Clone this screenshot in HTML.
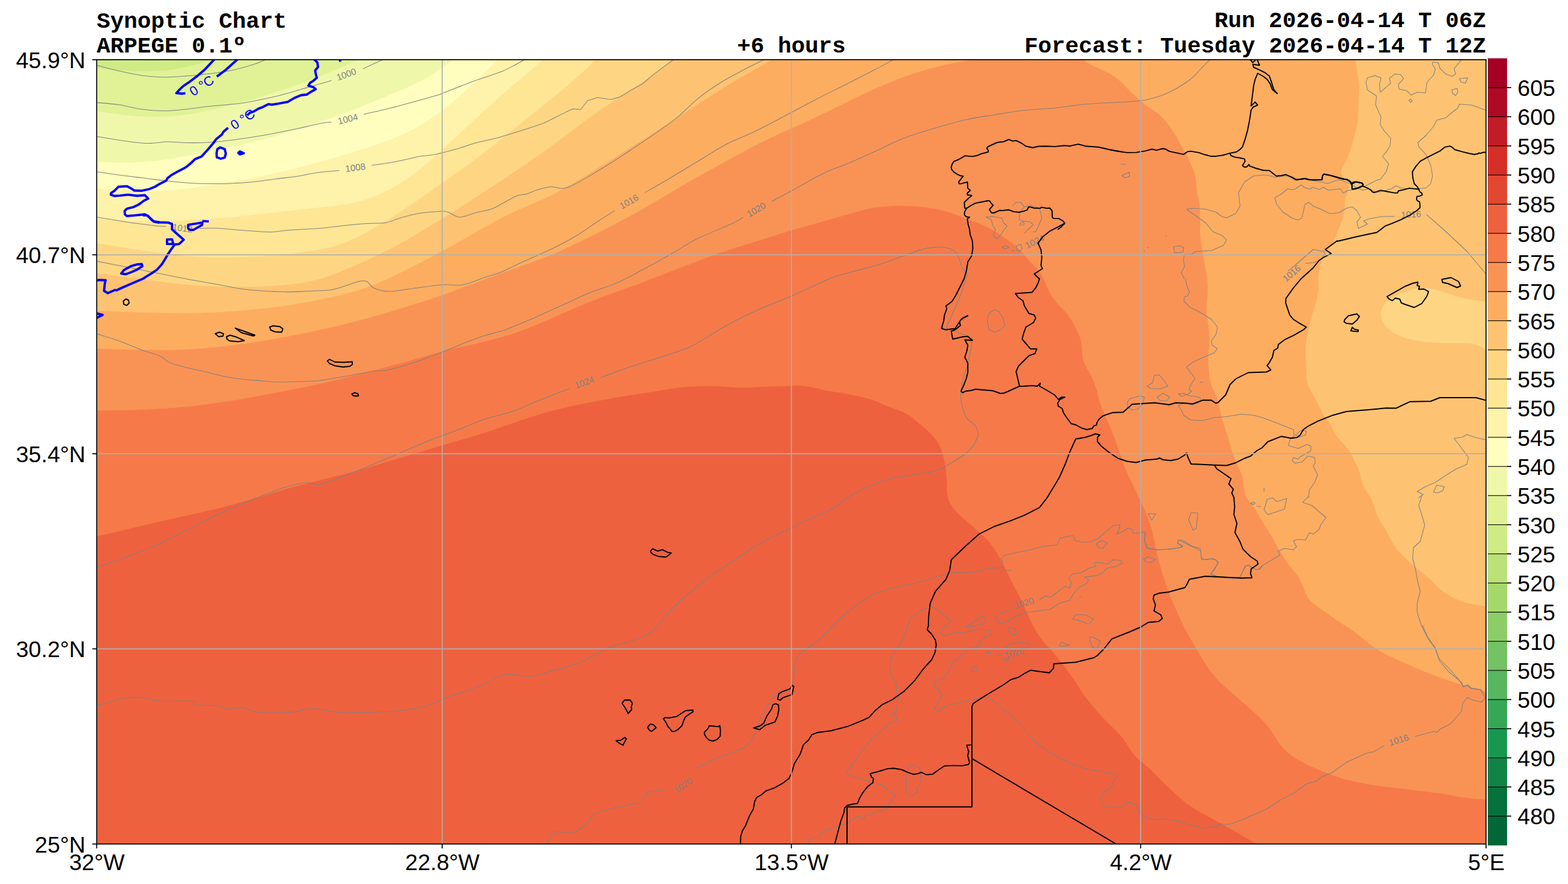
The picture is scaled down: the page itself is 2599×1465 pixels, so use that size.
<!DOCTYPE html><html><head><meta charset="utf-8"><title>Synoptic Chart</title>
<style>html,body{margin:0;padding:0;background:#fff;font-family:"Liberation Sans",sans-serif}svg{display:block}</style></head><body>
<svg xmlns="http://www.w3.org/2000/svg" width="2599" height="1465" viewBox="0 0 2599 1465">
<rect width="2599" height="1465" fill="#fff"/>
<defs><clipPath id="ax"><rect x="160.3" y="98.9" width="2302.8999999999996" height="1299.8"/></clipPath></defs>
<g clip-path="url(#ax)">
<rect x="160.3" y="98.9" width="2302.8999999999996" height="1299.8" fill="#ee613e"/>
<g stroke="none">
<path d="M158.3 889.0C160.5 888.5 167.5 887.1 171.7 886.2C175.9 885.3 179.4 884.3 183.3 883.4C187.2 882.5 191.1 881.5 195.0 880.6C198.9 879.7 202.8 878.7 206.7 877.8C210.6 876.9 214.5 875.9 218.4 875.0C222.3 874.1 226.1 873.1 230.0 872.2C233.9 871.3 237.8 870.3 241.7 869.4C245.6 868.5 249.5 867.5 253.4 866.6C257.3 865.7 261.2 864.8 265.1 863.9C269.0 863.0 272.9 862.2 276.8 861.3C280.7 860.4 284.6 859.6 288.5 858.7C292.4 857.8 296.4 857.0 300.3 856.1C304.2 855.2 308.1 854.5 312.0 853.6C315.9 852.8 319.8 851.9 323.7 851.0C327.6 850.1 331.6 849.3 335.5 848.4C339.4 847.5 343.3 846.7 347.2 845.8C351.1 844.9 355.0 844.0 358.9 843.0C362.8 842.0 366.6 841.0 370.5 840.0C374.4 839.0 378.2 837.9 382.1 836.9C386.0 835.9 389.8 834.8 393.6 833.7C397.5 832.6 401.3 831.6 405.2 830.5C409.1 829.4 412.9 828.3 416.8 827.2C420.7 826.1 424.5 825.0 428.3 823.9C432.1 822.8 436.0 821.6 439.8 820.5C443.6 819.4 447.5 818.2 451.3 817.1C455.1 816.0 459.0 814.9 462.8 813.7C466.6 812.6 470.5 811.3 474.3 810.2C478.1 809.1 482.0 808.0 485.9 807.0C489.8 806.0 493.6 804.9 497.5 803.9C501.4 802.9 505.2 802.0 509.1 801.0C513.0 800.0 516.9 799.1 520.8 798.1C524.7 797.1 528.5 796.1 532.4 795.1C536.3 794.1 540.2 793.2 544.1 792.2C548.0 791.2 551.8 790.3 555.7 789.3C559.6 788.3 563.5 787.4 567.4 786.4C571.3 785.4 575.1 784.4 579.0 783.4C582.9 782.4 586.8 781.3 590.6 780.2C594.5 779.1 598.3 778.0 602.1 776.9C605.9 775.8 609.8 774.5 613.6 773.4C617.4 772.2 621.3 771.1 625.1 770.0C628.9 768.9 632.8 767.6 636.6 766.5C640.4 765.4 644.3 764.2 648.1 763.1C651.9 762.0 655.8 760.8 659.6 759.6C663.4 758.5 667.3 757.4 671.1 756.2C674.9 755.1 678.8 753.9 682.6 752.7C686.4 751.6 690.3 750.4 694.1 749.3C697.9 748.1 701.8 746.9 705.6 745.8C709.4 744.6 713.3 743.5 717.1 742.4C720.9 741.2 724.8 740.0 728.6 738.9C732.4 737.8 736.3 736.6 740.1 735.5C743.9 734.4 747.8 733.3 751.6 732.2C755.5 731.1 759.4 729.9 763.2 728.8C767.1 727.7 770.9 726.6 774.7 725.5C778.5 724.4 782.4 723.2 786.2 722.1C790.0 721.0 793.9 719.9 797.7 718.7C801.5 717.5 805.4 716.2 809.2 715.0C813.0 713.8 816.7 712.5 820.5 711.2C824.3 709.9 828.1 708.5 831.9 707.2C835.7 705.9 839.4 704.6 843.2 703.3C847.0 702.0 850.8 700.7 854.6 699.4C858.4 698.1 862.1 696.9 865.9 695.6C869.7 694.3 873.5 693.0 877.3 691.8C881.1 690.5 885.0 689.3 888.8 688.1C892.6 686.9 896.4 685.6 900.2 684.5C904.0 683.4 907.9 682.3 911.8 681.3C915.7 680.3 919.5 679.3 923.4 678.4C927.3 677.5 931.2 676.5 935.1 675.6C939.0 674.7 942.9 673.7 946.8 672.8C950.7 671.9 954.6 671.1 958.5 670.3C962.4 669.5 966.4 668.8 970.3 668.0C974.2 667.2 978.2 666.5 982.1 665.8C986.0 665.1 990.0 664.3 993.9 663.6C997.8 662.9 1001.8 662.1 1005.7 661.4C1009.6 660.7 1013.6 659.9 1017.5 659.2C1021.4 658.5 1025.3 657.8 1029.3 657.1C1033.2 656.4 1037.2 655.8 1041.2 655.2C1045.2 654.6 1049.0 654.0 1053.0 653.4C1057.0 652.8 1060.9 652.2 1064.9 651.6C1068.9 651.0 1072.8 650.4 1076.8 649.8C1080.8 649.2 1084.6 648.4 1088.6 647.8C1092.5 647.1 1096.5 646.5 1100.5 645.9C1104.5 645.2 1108.3 644.5 1112.3 643.9C1116.2 643.3 1120.2 642.7 1124.2 642.2C1128.2 641.7 1132.1 641.3 1136.1 641.0C1140.1 640.7 1144.1 640.5 1148.1 640.3C1152.1 640.1 1156.1 639.9 1160.1 639.8C1164.1 639.7 1168.1 639.5 1172.1 639.5C1176.1 639.5 1180.1 639.6 1184.1 639.7C1188.1 639.8 1192.0 640.0 1196.0 640.2C1200.0 640.4 1204.0 640.8 1208.0 641.0C1212.0 641.2 1216.0 641.6 1220.0 641.7C1224.0 641.9 1228.0 641.9 1232.0 641.9C1236.0 641.9 1240.0 641.8 1244.0 641.7C1248.0 641.6 1252.0 641.3 1256.0 641.1C1260.0 640.9 1263.9 640.8 1267.9 640.6C1271.9 640.4 1275.9 640.3 1279.9 640.1C1283.9 639.9 1287.9 639.7 1291.9 639.6C1295.9 639.5 1299.9 639.4 1303.9 639.3C1307.9 639.2 1311.9 639.0 1315.9 639.0C1319.9 639.0 1323.9 638.9 1327.9 639.1C1331.9 639.3 1335.9 639.7 1339.8 640.3C1343.7 640.9 1347.5 641.8 1351.4 642.7C1355.3 643.6 1359.2 644.6 1363.1 645.5C1367.0 646.4 1370.9 647.1 1374.8 647.8C1378.7 648.5 1382.8 649.1 1386.7 649.7C1390.7 650.3 1394.6 650.8 1398.5 651.5C1402.4 652.2 1406.4 652.9 1410.3 653.7C1414.2 654.5 1418.1 655.2 1422.0 656.1C1425.9 657.0 1429.8 657.9 1433.7 658.9C1437.6 659.9 1441.4 660.9 1445.2 662.2C1449.0 663.5 1452.6 665.0 1456.3 666.5C1460.0 668.0 1463.6 669.8 1467.3 671.3C1471.0 672.8 1474.7 674.3 1478.4 675.7C1482.1 677.1 1485.9 678.3 1489.6 679.8C1493.3 681.2 1497.0 682.6 1500.4 684.4C1503.9 686.2 1507.1 688.3 1510.3 690.6C1513.5 692.9 1516.5 695.6 1519.5 698.1C1522.5 700.6 1525.6 703.1 1528.6 705.7C1531.6 708.3 1534.8 710.8 1537.7 713.5C1540.6 716.2 1543.5 718.9 1546.1 721.9C1548.7 724.9 1551.2 728.0 1553.3 731.3C1555.4 734.6 1557.3 738.1 1558.9 741.7C1560.5 745.3 1561.8 749.1 1562.9 752.9C1564.0 756.7 1564.9 760.6 1565.7 764.5C1566.5 768.4 1567.2 772.3 1567.8 776.3C1568.4 780.2 1568.9 784.2 1569.2 788.2C1569.5 792.2 1569.7 796.1 1569.8 800.1C1569.9 804.1 1569.8 808.1 1570.0 812.0C1570.2 815.9 1570.4 819.8 1571.3 823.5C1572.2 827.2 1573.5 830.9 1575.3 834.3C1577.0 837.7 1579.4 840.9 1581.8 844.0C1584.2 847.1 1587.0 849.9 1589.8 852.7C1592.6 855.5 1595.8 858.0 1598.8 860.6C1601.8 863.2 1605.0 865.7 1608.0 868.3C1611.0 870.9 1614.0 873.6 1616.9 876.3C1619.8 879.0 1622.7 881.8 1625.6 884.5C1628.5 887.2 1631.5 889.9 1634.3 892.7C1637.1 895.5 1639.8 898.4 1642.3 901.5C1644.8 904.6 1647.2 907.8 1649.4 911.1C1651.6 914.4 1653.6 917.8 1655.6 921.3C1657.6 924.8 1659.4 928.3 1661.3 931.9C1663.2 935.5 1664.9 939.0 1666.7 942.6C1668.5 946.2 1670.2 949.8 1672.0 953.4C1673.8 957.0 1675.4 960.6 1677.2 964.2C1679.0 967.8 1680.8 971.3 1682.7 974.8C1684.6 978.3 1686.6 981.8 1688.4 985.3C1690.2 988.8 1692.1 992.4 1693.8 996.0C1695.5 999.6 1697.1 1003.3 1698.8 1006.9C1700.5 1010.5 1702.0 1014.2 1703.7 1017.8C1705.4 1021.4 1707.1 1025.1 1708.8 1028.7C1710.5 1032.3 1712.2 1035.9 1714.1 1039.4C1716.0 1042.9 1718.0 1046.5 1720.1 1049.8C1722.2 1053.1 1724.5 1056.3 1726.9 1059.5C1729.3 1062.7 1732.0 1065.7 1734.6 1068.7C1737.2 1071.7 1740.0 1074.6 1742.7 1077.6C1745.4 1080.6 1747.9 1083.5 1750.5 1086.6C1753.1 1089.6 1755.6 1092.8 1758.1 1095.9C1760.6 1099.0 1763.0 1102.2 1765.4 1105.4C1767.8 1108.6 1770.1 1112.0 1772.4 1115.2C1774.7 1118.5 1777.0 1121.6 1779.3 1124.9C1781.6 1128.2 1783.8 1131.6 1786.0 1134.9C1788.2 1138.2 1790.2 1141.6 1792.4 1144.9C1794.6 1148.2 1796.8 1151.6 1799.2 1154.8C1801.6 1158.0 1804.1 1161.1 1806.6 1164.2C1809.1 1167.3 1811.7 1170.4 1814.3 1173.4C1816.9 1176.4 1819.5 1179.4 1822.2 1182.4C1824.9 1185.4 1827.5 1188.3 1830.3 1191.2C1833.1 1194.1 1835.9 1196.9 1838.8 1199.7C1841.7 1202.5 1844.6 1205.2 1847.4 1208.0C1850.2 1210.8 1853.1 1213.6 1855.7 1216.6C1858.3 1219.6 1860.9 1222.7 1863.2 1225.9C1865.5 1229.1 1867.7 1232.5 1869.8 1235.8C1871.9 1239.1 1873.8 1242.5 1876.1 1245.7C1878.4 1248.9 1880.8 1251.9 1883.5 1254.7C1886.2 1257.5 1889.2 1259.9 1892.2 1262.5C1895.2 1265.1 1898.4 1267.6 1901.4 1270.2C1904.4 1272.8 1907.4 1275.5 1910.2 1278.3C1913.0 1281.1 1915.7 1284.0 1918.5 1286.8C1921.3 1289.6 1924.1 1292.5 1927.0 1295.3C1929.9 1298.1 1932.8 1300.8 1935.7 1303.5C1938.6 1306.2 1941.6 1309.0 1944.5 1311.7C1947.4 1314.4 1950.3 1317.2 1953.3 1319.8C1956.3 1322.4 1959.3 1325.1 1962.4 1327.6C1965.5 1330.1 1968.7 1332.5 1972.0 1334.8C1975.3 1337.1 1978.6 1339.2 1982.0 1341.3C1985.4 1343.4 1988.9 1345.4 1992.4 1347.4C1995.9 1349.4 1999.4 1351.2 2002.9 1353.1C2006.4 1355.0 2010.0 1356.8 2013.5 1358.7C2017.0 1360.6 2020.5 1362.6 2024.0 1364.6C2027.5 1366.6 2030.9 1368.5 2034.4 1370.5C2037.9 1372.5 2041.4 1374.5 2044.9 1376.5C2048.4 1378.5 2051.8 1380.4 2055.3 1382.4C2058.8 1384.4 2062.2 1386.4 2065.7 1388.4C2069.1 1390.4 2072.6 1392.5 2076.0 1394.5C2079.4 1396.5 2084.3 1399.7 2086.0 1400.7L2465.2 1400.7L2465.2 96.9L158.3 96.9Z" fill="#f67a49" stroke="#f67a49" stroke-width="0.6"/>
<path d="M158.3 680.0C160.6 680.0 167.7 679.8 172.0 679.8C176.3 679.8 180.1 679.8 184.1 679.7C188.1 679.7 192.1 679.5 196.1 679.5C200.1 679.5 204.1 679.4 208.1 679.4C212.1 679.4 216.2 679.3 220.2 679.2C224.2 679.1 228.2 678.9 232.2 678.8C236.2 678.6 240.2 678.5 244.2 678.3C248.2 678.1 252.2 677.9 256.2 677.6C260.2 677.4 264.2 677.1 268.2 676.8C272.2 676.5 276.3 676.3 280.3 676.0C284.3 675.7 288.3 675.5 292.3 675.2C296.3 674.9 300.3 674.6 304.3 674.2C308.3 673.8 312.2 673.4 316.2 673.0C320.2 672.6 324.2 672.1 328.2 671.6C332.2 671.1 336.1 670.5 340.1 670.0C344.1 669.5 348.0 668.9 352.0 668.4C356.0 667.9 360.0 667.3 364.0 666.8C368.0 666.2 371.9 665.7 375.9 665.1C379.9 664.5 383.9 663.9 387.8 663.3C391.8 662.6 395.7 661.9 399.6 661.2C403.6 660.5 407.6 659.8 411.5 659.1C415.4 658.4 419.4 657.6 423.3 656.9C427.2 656.1 431.2 655.4 435.1 654.6C439.1 653.9 443.1 653.1 447.0 652.4C450.9 651.7 454.9 651.0 458.8 650.2C462.7 649.5 466.7 648.7 470.6 647.9C474.5 647.1 478.5 646.3 482.4 645.5C486.3 644.7 490.3 644.0 494.2 643.2C498.1 642.4 502.1 641.6 506.0 640.8C509.9 640.0 513.9 639.2 517.8 638.4C521.7 637.6 525.7 636.8 529.6 635.9C533.5 635.0 537.4 634.2 541.3 633.3C545.2 632.4 549.1 631.4 553.0 630.4C556.9 629.4 560.8 628.5 564.7 627.5C568.6 626.5 572.4 625.5 576.3 624.5C580.2 623.5 584.1 622.6 588.0 621.6C591.9 620.6 595.8 619.6 599.7 618.6C603.6 617.6 607.4 616.6 611.3 615.6C615.2 614.6 619.1 613.5 623.0 612.5C626.9 611.5 630.7 610.4 634.6 609.4C638.5 608.4 642.3 607.3 646.2 606.3C650.1 605.3 654.0 604.2 657.9 603.2C661.8 602.2 665.6 601.2 669.5 600.1C673.4 599.0 677.2 598.0 681.1 596.9C685.0 595.8 688.9 594.7 692.7 593.6C696.6 592.5 700.4 591.3 704.2 590.2C708.1 589.1 711.9 587.9 715.8 586.8C719.6 585.7 723.4 584.6 727.3 583.5C731.1 582.4 735.0 581.4 738.9 580.4C742.8 579.4 746.8 578.5 750.7 577.6C754.6 576.7 758.5 575.9 762.4 575.0C766.3 574.1 770.3 573.4 774.2 572.5C778.1 571.6 782.0 570.8 785.9 569.9C789.8 569.0 793.8 568.1 797.7 567.2C801.6 566.3 805.4 565.3 809.3 564.3C813.2 563.3 817.1 562.2 821.0 561.2C824.9 560.2 828.6 559.1 832.5 558.0C836.4 556.9 840.3 555.8 844.1 554.6C847.9 553.4 851.7 552.2 855.5 550.9C859.3 549.6 863.0 548.2 866.8 546.8C870.5 545.4 874.3 543.9 878.0 542.4C881.7 540.9 885.5 539.4 889.2 537.9C892.9 536.4 896.6 534.8 900.3 533.3C904.0 531.8 907.7 530.2 911.4 528.6C915.1 527.0 918.7 525.3 922.4 523.7C926.1 522.1 929.7 520.4 933.4 518.8C937.1 517.2 940.7 515.5 944.4 513.9C948.1 512.3 951.7 510.7 955.4 509.1C959.1 507.5 962.8 506.0 966.5 504.5C970.2 503.0 974.0 501.5 977.7 500.0C981.4 498.5 985.2 497.1 988.9 495.6C992.6 494.1 996.4 492.6 1000.1 491.2C1003.9 489.8 1007.6 488.4 1011.4 487.0C1015.2 485.6 1018.9 484.3 1022.7 483.0C1026.5 481.7 1030.3 480.4 1034.1 479.0C1037.9 477.6 1041.6 476.3 1045.4 474.9C1049.2 473.5 1053.0 472.2 1056.7 470.8C1060.5 469.4 1064.2 467.9 1067.9 466.4C1071.6 464.9 1075.4 463.4 1079.1 462.0C1082.8 460.6 1086.5 459.1 1090.3 457.7C1094.0 456.3 1097.8 454.8 1101.6 453.4C1105.3 452.0 1109.0 450.5 1112.8 449.1C1116.5 447.7 1120.3 446.2 1124.1 444.8C1127.8 443.4 1131.6 441.9 1135.3 440.5C1139.0 439.1 1142.8 437.6 1146.5 436.2C1150.2 434.8 1154.0 433.3 1157.8 431.9C1161.5 430.5 1165.2 429.0 1169.0 427.6C1172.8 426.2 1176.5 424.7 1180.3 423.3C1184.1 421.9 1187.8 420.6 1191.6 419.3C1195.4 418.0 1199.2 416.6 1203.0 415.4C1206.8 414.1 1210.7 413.0 1214.5 411.8C1218.3 410.6 1222.2 409.4 1226.0 408.2C1229.8 407.0 1233.7 405.8 1237.5 404.6C1241.3 403.4 1245.2 402.2 1249.0 401.0C1252.8 399.8 1256.7 398.7 1260.5 397.5C1264.3 396.3 1268.1 395.1 1271.9 393.9C1275.7 392.7 1279.6 391.5 1283.4 390.3C1287.2 389.1 1291.1 387.9 1294.9 386.7C1298.7 385.5 1302.6 384.4 1306.4 383.2C1310.2 382.0 1314.2 380.8 1318.0 379.7C1321.8 378.6 1325.7 377.5 1329.5 376.4C1333.3 375.3 1337.2 374.2 1341.1 373.1C1345.0 372.0 1348.8 371.0 1352.7 369.9C1356.6 368.8 1360.4 367.7 1364.3 366.6C1368.2 365.5 1372.0 364.4 1375.9 363.3C1379.8 362.2 1383.7 361.2 1387.5 360.1C1391.3 359.0 1395.2 357.9 1399.0 356.8C1402.8 355.7 1406.7 354.6 1410.6 353.5C1414.5 352.4 1418.3 351.4 1422.2 350.3C1426.1 349.2 1429.9 348.1 1433.8 347.1C1437.7 346.1 1441.6 345.2 1445.5 344.5C1449.4 343.8 1453.3 343.2 1457.3 342.8C1461.3 342.4 1465.3 342.1 1469.3 341.8C1473.3 341.5 1477.3 341.3 1481.3 341.1C1485.3 340.9 1489.3 340.7 1493.3 340.7C1497.3 340.7 1501.3 340.8 1505.3 340.9C1509.3 341.0 1513.3 341.3 1517.3 341.6C1521.3 341.9 1525.3 342.4 1529.3 342.8C1533.3 343.2 1537.2 343.7 1541.2 344.3C1545.2 344.9 1549.2 345.6 1553.1 346.4C1557.0 347.2 1560.9 348.0 1564.8 349.0C1568.7 350.0 1572.4 351.2 1576.2 352.5C1580.0 353.8 1583.8 355.2 1587.5 356.7C1591.2 358.1 1594.9 359.8 1598.6 361.2C1602.3 362.6 1606.0 363.9 1609.8 365.3C1613.5 366.7 1617.4 367.9 1621.1 369.3C1624.8 370.7 1628.5 372.2 1632.1 373.9C1635.7 375.6 1639.3 377.5 1642.8 379.5C1646.3 381.5 1649.7 383.6 1653.0 385.7C1656.3 387.8 1659.6 390.2 1662.9 392.4C1666.2 394.6 1669.7 396.8 1672.9 399.1C1676.2 401.4 1679.4 403.7 1682.4 406.2C1685.4 408.7 1688.3 411.4 1691.0 414.3C1693.7 417.2 1696.2 420.3 1698.7 423.3C1701.2 426.3 1703.6 429.4 1706.3 432.3C1709.0 435.2 1712.0 437.8 1714.7 440.6C1717.4 443.4 1720.3 446.1 1722.6 449.2C1724.9 452.3 1726.9 455.6 1728.7 459.1C1730.5 462.6 1731.9 466.4 1733.5 470.0C1735.1 473.6 1736.6 477.3 1738.4 480.9C1740.2 484.4 1742.1 488.0 1744.2 491.3C1746.3 494.6 1748.7 497.9 1751.2 500.9C1753.7 503.9 1756.7 506.6 1759.4 509.5C1762.1 512.4 1764.9 515.2 1767.4 518.3C1769.9 521.4 1772.3 524.6 1774.5 527.9C1776.7 531.2 1778.7 534.7 1780.6 538.2C1782.5 541.7 1784.4 545.3 1786.1 548.9C1787.8 552.5 1789.4 556.2 1790.6 559.9C1791.8 563.6 1792.6 567.5 1793.2 571.3C1793.8 575.1 1793.7 579.1 1794.0 582.9C1794.3 586.7 1794.4 590.5 1795.2 594.2C1796.0 597.9 1797.4 601.4 1799.0 604.9C1800.6 608.4 1802.8 611.8 1804.7 615.3C1806.6 618.8 1808.5 622.3 1810.2 625.9C1811.9 629.5 1813.5 633.2 1814.9 636.9C1816.3 640.6 1817.5 644.5 1818.6 648.3C1819.7 652.1 1820.6 655.9 1821.6 659.8C1822.6 663.6 1823.6 667.6 1824.8 671.4C1826.0 675.2 1827.5 678.9 1829.0 682.6C1830.5 686.3 1832.2 689.9 1833.9 693.5C1835.6 697.1 1837.3 700.7 1838.9 704.4C1840.5 708.1 1842.2 711.8 1843.7 715.5C1845.2 719.2 1846.7 723.0 1848.1 726.7C1849.5 730.5 1850.8 734.2 1852.1 738.0C1853.4 741.8 1854.5 745.6 1855.8 749.4C1857.0 753.2 1858.3 757.1 1859.6 760.9C1860.9 764.7 1862.2 768.5 1863.7 772.2C1865.2 775.9 1866.7 779.6 1868.3 783.3C1869.9 786.9 1871.8 790.5 1873.5 794.1C1875.2 797.7 1877.0 801.2 1878.8 804.8C1880.5 808.4 1882.3 812.1 1884.0 815.7C1885.7 819.3 1887.3 823.0 1889.0 826.6C1890.7 830.2 1892.4 833.9 1894.1 837.5C1895.8 841.1 1897.5 844.8 1899.1 848.5C1900.7 852.2 1902.2 855.9 1903.6 859.6C1905.0 863.4 1906.2 867.2 1907.4 871.0C1908.6 874.8 1909.5 878.7 1910.5 882.6C1911.5 886.5 1912.3 890.4 1913.2 894.3C1914.1 898.2 1914.9 902.2 1915.7 906.1C1916.5 910.0 1917.2 913.9 1918.1 917.8C1919.0 921.7 1920.0 925.6 1921.0 929.5C1922.0 933.4 1923.2 937.1 1924.3 941.0C1925.4 944.9 1926.6 948.8 1927.8 952.6C1929.0 956.4 1930.2 960.2 1931.4 964.0C1932.7 967.8 1933.9 971.6 1935.3 975.4C1936.7 979.2 1938.1 983.0 1939.6 986.7C1941.1 990.4 1942.7 994.1 1944.2 997.8C1945.8 1001.5 1947.3 1005.1 1948.9 1008.8C1950.5 1012.5 1952.1 1016.1 1953.8 1019.8C1955.5 1023.4 1957.2 1027.1 1958.9 1030.7C1960.6 1034.3 1962.4 1038.0 1964.2 1041.6C1966.0 1045.2 1967.9 1048.7 1969.8 1052.2C1971.7 1055.7 1973.8 1059.1 1975.8 1062.6C1977.8 1066.1 1979.9 1069.5 1981.9 1073.0C1983.9 1076.5 1986.0 1079.9 1988.0 1083.3C1990.0 1086.7 1992.1 1090.2 1994.2 1093.6C1996.3 1097.0 1998.5 1100.4 2000.8 1103.7C2003.1 1107.0 2005.4 1110.3 2007.8 1113.5C2010.2 1116.7 2012.6 1119.8 2015.2 1122.8C2017.8 1125.8 2020.7 1128.7 2023.5 1131.5C2026.3 1134.3 2029.3 1136.9 2032.3 1139.6C2035.3 1142.3 2038.4 1144.9 2041.4 1147.5C2044.4 1150.1 2047.5 1152.8 2050.5 1155.4C2053.5 1158.0 2056.5 1160.7 2059.5 1163.3C2062.5 1165.9 2065.6 1168.5 2068.6 1171.2C2071.6 1173.9 2074.6 1176.5 2077.6 1179.2C2080.6 1181.9 2083.6 1184.4 2086.5 1187.2C2089.4 1190.0 2092.3 1192.8 2095.0 1195.8C2097.7 1198.8 2100.3 1201.8 2102.7 1204.9C2105.1 1208.1 2107.4 1211.4 2109.6 1214.7C2111.8 1218.0 2113.9 1221.5 2116.1 1224.8C2118.3 1228.1 2120.5 1231.4 2123.0 1234.5C2125.5 1237.6 2128.1 1240.6 2130.9 1243.4C2133.7 1246.2 2136.7 1248.7 2139.9 1251.1C2143.1 1253.5 2146.5 1255.7 2149.9 1257.8C2153.3 1259.9 2156.8 1261.8 2160.3 1263.6C2163.8 1265.4 2167.5 1267.2 2171.1 1268.9C2174.7 1270.6 2178.4 1272.2 2182.1 1273.8C2185.8 1275.4 2189.5 1276.9 2193.2 1278.4C2196.9 1279.9 2200.7 1281.4 2204.4 1282.8C2208.2 1284.2 2211.9 1285.6 2215.7 1286.9C2219.5 1288.2 2223.3 1289.3 2227.2 1290.4C2231.1 1291.5 2235.0 1292.5 2238.9 1293.4C2242.8 1294.4 2246.7 1295.3 2250.6 1296.1C2254.5 1296.9 2258.5 1297.7 2262.4 1298.4C2266.3 1299.1 2270.2 1299.8 2274.2 1300.5C2278.1 1301.2 2282.1 1301.8 2286.1 1302.3C2290.1 1302.8 2294.1 1303.2 2298.1 1303.7C2302.1 1304.2 2306.0 1304.6 2310.0 1305.1C2314.0 1305.6 2318.0 1306.0 2322.0 1306.5C2326.0 1307.0 2329.9 1307.5 2333.9 1308.0C2337.9 1308.5 2341.9 1309.1 2345.9 1309.6C2349.9 1310.1 2353.8 1310.5 2357.8 1311.0C2361.8 1311.5 2365.8 1311.9 2369.8 1312.4C2373.8 1312.9 2377.7 1313.3 2381.7 1313.8C2385.7 1314.3 2389.6 1314.8 2393.6 1315.5C2397.6 1316.2 2401.5 1316.9 2405.4 1317.7C2409.3 1318.5 2413.2 1319.4 2417.2 1320.1C2421.1 1320.8 2425.1 1321.4 2429.1 1321.9C2433.1 1322.4 2437.0 1322.8 2441.0 1323.2C2445.0 1323.6 2449.0 1323.8 2453.0 1324.1C2457.0 1324.4 2463.2 1324.8 2465.2 1325.0L2465.2 96.9L158.3 96.9Z" fill="#f99355" stroke="#f99355" stroke-width="0.6"/>
<path d="M158.3 577.5C160.6 577.6 167.7 577.8 172.0 577.9C176.3 578.0 180.0 578.2 184.0 578.3C188.0 578.4 192.1 578.6 196.1 578.7C200.1 578.8 204.1 578.9 208.1 579.0C212.1 579.1 216.1 579.2 220.1 579.3C224.1 579.4 228.1 579.4 232.1 579.5C236.1 579.6 240.1 579.7 244.1 579.7C248.1 579.8 252.2 579.8 256.2 579.8C260.2 579.8 264.2 579.8 268.2 579.8C272.2 579.8 276.2 579.8 280.2 579.7C284.2 579.7 288.2 579.6 292.2 579.5C296.2 579.4 300.2 579.3 304.2 579.1C308.2 578.9 312.2 578.7 316.2 578.5C320.2 578.3 324.2 578.0 328.2 577.7C332.2 577.4 336.2 577.1 340.2 576.7C344.2 576.4 348.1 576.0 352.1 575.6C356.1 575.2 360.1 574.7 364.1 574.3C368.1 573.9 372.0 573.5 376.0 573.0C380.0 572.5 383.9 572.0 387.9 571.5C391.9 571.0 395.9 570.4 399.9 569.9C403.9 569.4 407.9 568.8 411.8 568.2C415.8 567.6 419.7 567.0 423.6 566.4C427.6 565.8 431.5 565.2 435.5 564.6C439.5 564.0 443.4 563.3 447.4 562.6C451.3 561.9 455.2 561.3 459.2 560.6C463.1 559.9 467.2 559.2 471.1 558.5C475.1 557.8 479.0 557.0 482.9 556.2C486.8 555.4 490.8 554.7 494.7 553.9C498.6 553.1 502.6 552.4 506.5 551.6C510.4 550.8 514.3 549.9 518.2 549.1C522.1 548.3 526.1 547.5 530.0 546.6C533.9 545.7 537.8 544.8 541.7 543.9C545.6 543.0 549.5 542.1 553.4 541.2C557.3 540.3 561.2 539.3 565.1 538.4C569.0 537.5 572.9 536.6 576.8 535.6C580.7 534.6 584.5 533.6 588.4 532.6C592.3 531.6 596.2 530.6 600.1 529.6C604.0 528.6 607.9 527.5 611.7 526.4C615.6 525.3 619.4 524.3 623.2 523.2C627.1 522.1 630.9 521.0 634.8 519.9C638.6 518.8 642.5 517.6 646.3 516.5C650.1 515.4 654.0 514.2 657.8 513.0C661.6 511.8 665.5 510.7 669.3 509.5C673.1 508.3 677.0 507.1 680.8 505.9C684.6 504.7 688.5 503.5 692.3 502.3C696.1 501.1 699.9 499.9 703.7 498.6C707.5 497.4 711.3 496.1 715.1 494.8C718.9 493.5 722.7 492.3 726.5 491.0C730.3 489.7 734.1 488.3 737.9 487.0C741.7 485.7 745.4 484.4 749.2 483.0C753.0 481.6 756.8 480.2 760.5 478.8C764.2 477.4 768.0 476.0 771.7 474.6C775.5 473.2 779.2 471.8 783.0 470.4C786.8 469.0 790.5 467.5 794.2 466.1C798.0 464.7 801.8 463.2 805.5 461.8C809.2 460.4 813.0 459.1 816.7 457.7C820.5 456.3 824.2 454.9 828.0 453.5C831.8 452.1 835.5 450.8 839.3 449.4C843.1 448.0 846.8 446.7 850.6 445.4C854.4 444.1 858.2 442.8 862.0 441.4C865.8 440.0 869.5 438.6 873.3 437.3C877.1 436.0 880.8 434.7 884.6 433.3C888.4 431.9 892.1 430.5 895.9 429.1C899.6 427.7 903.4 426.3 907.1 424.8C910.8 423.3 914.5 421.8 918.2 420.2C921.9 418.6 925.6 417.0 929.2 415.4C932.9 413.8 936.5 412.1 940.1 410.4C943.7 408.7 947.3 407.0 950.9 405.3C954.5 403.6 958.1 401.8 961.7 400.0C965.3 398.2 968.9 396.5 972.5 394.7C976.1 392.9 979.7 391.1 983.3 389.3C986.9 387.5 990.4 385.7 994.0 383.9C997.6 382.1 1001.1 380.3 1004.7 378.5C1008.3 376.7 1011.8 374.8 1015.4 373.0C1019.0 371.2 1022.5 369.4 1026.1 367.5C1029.6 365.6 1033.2 363.7 1036.7 361.8C1040.2 359.9 1043.8 358.0 1047.3 356.1C1050.8 354.2 1054.3 352.2 1057.8 350.3C1061.3 348.4 1064.8 346.4 1068.3 344.4C1071.8 342.4 1075.2 340.3 1078.7 338.3C1082.2 336.3 1085.5 334.3 1089.0 332.3C1092.5 330.3 1096.0 328.2 1099.4 326.1C1102.9 324.1 1106.2 322.0 1109.7 320.0C1113.2 318.0 1116.6 315.9 1120.1 313.9C1123.5 311.9 1127.0 309.8 1130.4 307.8C1133.9 305.8 1137.3 303.8 1140.8 301.8C1144.3 299.8 1147.8 297.8 1151.3 295.8C1154.8 293.8 1158.3 291.8 1161.8 289.9C1165.3 287.9 1168.8 286.0 1172.3 284.1C1175.8 282.2 1179.3 280.2 1182.8 278.3C1186.3 276.4 1189.8 274.3 1193.3 272.4C1196.8 270.4 1200.3 268.5 1203.8 266.6C1207.3 264.7 1210.9 262.8 1214.4 260.9C1217.9 259.0 1221.4 257.0 1224.9 255.1C1228.4 253.2 1232.0 251.3 1235.5 249.4C1239.0 247.5 1242.7 245.7 1246.2 243.8C1249.8 242.0 1253.2 240.1 1256.8 238.3C1260.4 236.5 1264.0 234.7 1267.6 232.9C1271.2 231.1 1274.8 229.3 1278.4 227.6C1282.0 225.9 1285.7 224.2 1289.3 222.5C1292.9 220.8 1296.5 219.2 1300.2 217.6C1303.9 216.0 1307.5 214.3 1311.2 212.7C1314.9 211.1 1318.6 209.4 1322.2 207.8C1325.8 206.2 1329.4 204.6 1333.1 202.9C1336.8 201.2 1340.5 199.6 1344.1 197.9C1347.7 196.2 1351.3 194.5 1354.9 192.8C1358.5 191.1 1362.2 189.3 1365.8 187.6C1369.4 185.9 1373.0 184.2 1376.6 182.4C1380.2 180.7 1383.8 178.9 1387.4 177.1C1391.0 175.3 1394.6 173.5 1398.2 171.7C1401.8 169.9 1405.3 168.2 1408.9 166.4C1412.5 164.6 1416.1 162.8 1419.7 161.1C1423.3 159.3 1426.9 157.6 1430.5 155.9C1434.1 154.2 1437.8 152.4 1441.4 150.7C1445.1 149.0 1448.7 147.4 1452.4 145.8C1456.1 144.2 1459.7 142.6 1463.4 141.0C1467.1 139.4 1470.8 137.9 1474.5 136.4C1478.2 134.9 1481.9 133.4 1485.6 132.0C1489.3 130.6 1493.1 129.2 1496.9 127.8C1500.7 126.4 1504.4 125.1 1508.2 123.8C1512.0 122.5 1515.8 121.2 1519.6 120.0C1523.4 118.8 1527.3 117.6 1531.1 116.5C1534.9 115.4 1538.8 114.2 1542.6 113.2C1546.4 112.2 1550.3 111.2 1554.2 110.3C1558.1 109.3 1562.0 108.4 1565.9 107.5C1569.8 106.6 1573.7 105.8 1577.6 105.0C1581.5 104.2 1585.5 103.4 1589.4 102.6C1593.3 101.8 1597.3 101.2 1601.2 100.3C1605.1 99.3 1611.0 97.5 1613.0 96.9L158.3 96.9Z" fill="#fdad60" stroke="#fdad60" stroke-width="0.6"/>
<path d="M1793.0 96.9C1794.7 98.1 1799.8 102.0 1803.3 104.2C1806.8 106.4 1810.3 108.1 1813.9 109.9C1817.5 111.7 1821.2 113.2 1824.9 114.9C1828.6 116.6 1832.3 118.1 1835.8 119.9C1839.3 121.7 1842.8 123.7 1846.1 125.9C1849.4 128.1 1852.5 130.6 1855.5 133.2C1858.5 135.8 1861.2 138.8 1864.0 141.6C1866.8 144.4 1869.6 147.4 1872.4 150.2C1875.2 153.0 1878.1 155.8 1881.1 158.5C1884.1 161.2 1887.1 163.9 1890.2 166.5C1893.3 169.1 1896.4 171.6 1899.6 174.0C1902.8 176.4 1906.1 178.6 1909.4 180.9C1912.7 183.2 1916.1 185.3 1919.2 187.8C1922.3 190.3 1925.2 193.0 1928.0 195.8C1930.8 198.7 1933.3 201.8 1935.8 204.9C1938.3 208.0 1940.6 211.3 1942.8 214.6C1945.0 217.9 1947.2 221.3 1949.2 224.8C1951.2 228.3 1953.1 231.9 1955.0 235.4C1956.9 238.9 1958.8 242.5 1960.7 246.0C1962.6 249.5 1964.6 253.1 1966.5 256.6C1968.4 260.2 1970.2 263.7 1972.0 267.3C1973.8 270.9 1975.6 274.5 1977.1 278.2C1978.6 281.9 1979.9 285.7 1980.8 289.5C1981.7 293.3 1982.2 297.2 1982.7 301.1C1983.2 305.0 1983.0 308.9 1983.5 312.8C1984.0 316.7 1984.8 320.5 1985.6 324.3C1986.4 328.1 1987.7 331.9 1988.2 335.5C1988.8 339.1 1988.8 342.6 1988.9 346.2C1989.1 349.8 1989.0 353.3 1989.1 356.9C1989.2 360.5 1989.7 364.2 1989.7 368.0C1989.8 371.8 1989.4 375.7 1989.4 379.6C1989.4 383.5 1989.5 387.5 1989.8 391.5C1990.1 395.5 1990.7 399.4 1991.2 403.4C1991.8 407.4 1992.4 411.3 1993.1 415.3C1993.8 419.3 1994.5 423.2 1995.2 427.2C1995.9 431.1 1996.7 435.1 1997.4 439.0C1998.1 442.9 1998.9 446.9 1999.5 450.9C2000.1 454.9 2000.8 458.8 2001.2 462.8C2001.6 466.8 2001.9 470.8 2002.1 474.8C2002.2 478.8 2002.3 482.8 2002.1 486.8C2001.9 490.8 2001.1 494.7 2000.7 498.6C2000.3 502.6 1999.9 506.5 1999.9 510.5C1999.9 514.5 2000.4 518.4 2000.8 522.4C2001.2 526.4 2001.9 530.3 2002.4 534.3C2003.0 538.3 2003.6 542.3 2004.1 546.3C2004.6 550.3 2005.1 554.2 2005.2 558.2C2005.3 562.2 2005.2 566.2 2004.9 570.2C2004.6 574.2 2004.0 578.1 2003.6 582.1C2003.2 586.1 2002.6 590.0 2002.5 594.0C2002.4 598.0 2002.8 601.8 2003.1 605.8C2003.4 609.8 2003.9 613.8 2004.3 617.7C2004.7 621.7 2004.9 625.7 2005.7 629.5C2006.5 633.3 2007.6 636.9 2009.0 640.5C2010.4 644.1 2012.5 647.5 2014.1 651.1C2015.7 654.7 2017.2 658.3 2018.4 662.1C2019.6 665.9 2020.6 669.8 2021.5 673.7C2022.4 677.6 2023.1 681.6 2024.0 685.5C2024.9 689.4 2025.7 693.4 2026.8 697.2C2027.9 701.1 2029.3 704.8 2030.6 708.6C2031.9 712.4 2033.3 716.2 2034.5 720.0C2035.7 723.8 2036.7 727.7 2037.8 731.6C2038.9 735.5 2039.8 739.4 2041.0 743.2C2042.2 747.0 2043.4 750.8 2044.8 754.6C2046.2 758.4 2047.6 762.1 2049.2 765.8C2050.8 769.5 2052.6 773.1 2054.2 776.7C2055.8 780.3 2057.8 783.8 2059.0 787.5C2060.2 791.2 2060.9 795.0 2061.4 798.7C2061.9 802.4 2061.4 806.3 2062.0 809.9C2062.6 813.5 2063.2 817.0 2064.7 820.4C2066.1 823.8 2068.5 827.0 2070.7 830.2C2072.9 833.4 2075.6 836.5 2077.8 839.8C2080.1 843.1 2082.1 846.5 2084.2 849.9C2086.3 853.3 2088.3 856.8 2090.4 860.3C2092.5 863.8 2094.5 867.2 2096.6 870.6C2098.7 874.0 2100.9 877.5 2103.0 880.9C2105.1 884.3 2107.3 887.6 2109.3 891.1C2111.3 894.6 2113.2 898.1 2115.1 901.6C2117.0 905.1 2118.5 908.6 2120.5 912.0C2122.5 915.4 2124.8 918.5 2127.0 921.8C2129.2 925.1 2131.2 928.5 2133.5 931.7C2135.8 934.9 2138.1 938.0 2140.6 941.1C2143.1 944.2 2145.9 947.1 2148.3 950.3C2150.7 953.5 2153.0 956.8 2154.9 960.2C2156.8 963.7 2158.3 967.4 2159.8 971.0C2161.3 974.6 2162.4 978.6 2164.0 982.1C2165.6 985.6 2167.3 989.2 2169.6 992.3C2171.9 995.4 2174.8 998.0 2177.8 1000.6C2180.8 1003.2 2184.2 1005.4 2187.4 1007.8C2190.6 1010.1 2193.9 1012.4 2197.2 1014.7C2200.5 1017.0 2203.8 1019.3 2207.1 1021.6C2210.4 1023.9 2213.8 1026.2 2217.1 1028.4C2220.4 1030.6 2223.8 1032.7 2227.2 1034.9C2230.6 1037.1 2234.1 1039.2 2237.4 1041.4C2240.7 1043.6 2244.0 1045.9 2247.2 1048.3C2250.4 1050.7 2253.4 1053.4 2256.5 1055.9C2259.6 1058.5 2262.7 1061.1 2265.8 1063.6C2269.0 1066.1 2272.1 1068.6 2275.4 1070.9C2278.7 1073.2 2282.0 1075.5 2285.4 1077.6C2288.8 1079.7 2292.3 1081.6 2295.9 1083.4C2299.5 1085.2 2303.2 1087.0 2306.8 1088.7C2310.4 1090.4 2314.0 1092.1 2317.7 1093.7C2321.4 1095.3 2325.1 1097.0 2328.8 1098.6C2332.5 1100.2 2336.1 1101.8 2339.8 1103.4C2343.5 1105.0 2347.2 1106.6 2350.9 1108.2C2354.6 1109.8 2358.3 1111.4 2362.0 1112.9C2365.7 1114.4 2369.4 1116.0 2373.2 1117.4C2376.9 1118.9 2380.7 1120.2 2384.5 1121.6C2388.3 1123.0 2392.0 1124.4 2395.8 1125.7C2399.6 1127.0 2403.5 1128.3 2407.3 1129.5C2411.1 1130.7 2415.0 1131.9 2418.8 1133.1C2422.6 1134.3 2426.5 1135.4 2430.3 1136.6C2434.2 1137.8 2438.1 1138.9 2441.9 1140.1C2445.8 1141.2 2449.5 1142.3 2453.4 1143.5C2457.3 1144.7 2463.2 1146.4 2465.2 1147.0L2465.2 96.9Z" fill="#fdad60" stroke="#fdad60" stroke-width="0.6"/>
<path d="M158.3 515.0C160.6 515.1 167.7 515.3 172.0 515.4C176.3 515.5 180.0 515.7 184.0 515.8C188.0 515.9 192.1 516.1 196.1 516.2C200.1 516.3 204.1 516.5 208.1 516.6C212.1 516.7 216.1 516.9 220.1 517.0C224.1 517.1 228.1 517.3 232.1 517.4C236.1 517.5 240.1 517.7 244.1 517.8C248.1 517.9 252.1 518.1 256.1 518.2C260.1 518.3 264.2 518.4 268.2 518.5C272.2 518.6 276.2 518.7 280.2 518.8C284.2 518.9 288.2 519.0 292.2 519.0C296.2 519.0 300.2 519.0 304.2 519.0C308.2 519.0 312.2 519.0 316.2 518.9C320.2 518.8 324.2 518.7 328.2 518.6C332.2 518.5 336.2 518.3 340.2 518.1C344.2 517.9 348.2 517.8 352.2 517.6C356.2 517.4 360.2 517.1 364.2 516.9C368.2 516.6 372.2 516.4 376.2 516.1C380.2 515.8 384.2 515.6 388.2 515.3C392.2 515.0 396.2 514.6 400.2 514.3C404.2 514.0 408.2 513.6 412.2 513.3C416.2 512.9 420.2 512.6 424.2 512.2C428.2 511.8 432.1 511.3 436.1 510.9C440.1 510.5 444.1 510.1 448.1 509.6C452.1 509.1 456.0 508.6 460.0 508.1C464.0 507.6 467.9 507.0 471.9 506.4C475.9 505.8 479.9 505.2 483.8 504.6C487.8 504.0 491.7 503.3 495.6 502.6C499.6 501.9 503.6 501.3 507.5 500.6C511.4 499.9 515.4 499.1 519.3 498.4C523.2 497.6 527.2 496.9 531.1 496.1C535.0 495.3 538.9 494.4 542.8 493.6C546.7 492.8 550.7 492.0 554.6 491.1C558.5 490.2 562.4 489.3 566.3 488.3C570.2 487.3 574.0 486.3 577.9 485.3C581.8 484.3 585.6 483.2 589.4 482.1C593.2 481.0 597.0 479.8 600.8 478.5C604.6 477.2 608.4 475.9 612.1 474.5C615.9 473.1 619.6 471.7 623.3 470.2C627.0 468.7 630.6 467.1 634.3 465.5C637.9 463.9 641.6 462.3 645.2 460.6C648.8 458.9 652.5 457.1 656.1 455.4C659.7 453.6 663.3 451.9 666.9 450.1C670.5 448.3 674.1 446.6 677.7 444.8C681.3 443.0 684.8 441.2 688.4 439.4C692.0 437.6 695.5 435.7 699.1 433.9C702.7 432.1 706.2 430.2 709.8 428.4C713.3 426.5 716.9 424.7 720.4 422.8C723.9 420.9 727.5 419.0 731.0 417.1C734.5 415.2 738.0 413.2 741.5 411.3C745.0 409.4 748.5 407.4 752.0 405.4C755.5 403.4 759.0 401.5 762.5 399.5C766.0 397.5 769.4 395.5 772.9 393.5C776.4 391.5 779.8 389.6 783.3 387.6C786.8 385.6 790.3 383.6 793.8 381.6C797.3 379.6 800.8 377.6 804.3 375.7C807.8 373.8 811.3 371.8 814.8 369.9C818.3 368.0 821.8 366.1 825.3 364.2C828.8 362.3 832.4 360.4 836.0 358.6C839.6 356.8 843.1 355.1 846.7 353.4C850.3 351.7 854.0 349.9 857.6 348.3C861.2 346.7 864.9 345.2 868.6 343.6C872.3 342.0 875.9 340.5 879.6 338.9C883.3 337.3 887.0 335.8 890.6 334.2C894.2 332.6 897.9 331.0 901.5 329.3C905.1 327.6 908.7 325.9 912.3 324.1C915.9 322.3 919.4 320.6 922.9 318.7C926.4 316.8 929.9 314.9 933.4 313.0C936.9 311.1 940.4 309.1 943.9 307.1C947.4 305.1 950.8 303.1 954.3 301.0C957.8 298.9 961.2 296.9 964.6 294.8C968.0 292.7 971.4 290.6 974.8 288.5C978.2 286.4 981.6 284.2 985.0 282.1C988.4 280.0 991.8 277.8 995.2 275.7C998.6 273.6 1002.0 271.4 1005.4 269.3C1008.8 267.2 1012.1 265.0 1015.5 262.9C1018.9 260.8 1022.3 258.6 1025.7 256.5C1029.1 254.4 1032.5 252.2 1035.9 250.1C1039.3 248.0 1042.7 245.8 1046.1 243.7C1049.5 241.6 1052.8 239.4 1056.2 237.3C1059.6 235.2 1063.0 233.1 1066.4 230.9C1069.8 228.8 1073.2 226.6 1076.6 224.4C1080.0 222.2 1083.3 220.2 1086.7 218.0C1090.1 215.8 1093.4 213.7 1096.8 211.5C1100.2 209.3 1103.5 207.2 1106.9 205.0C1110.3 202.8 1113.6 200.6 1117.0 198.4C1120.4 196.2 1123.7 194.1 1127.1 191.9C1130.5 189.7 1133.8 187.5 1137.2 185.3C1140.6 183.1 1143.9 181.0 1147.2 178.8C1150.5 176.6 1153.9 174.4 1157.3 172.2C1160.7 170.0 1164.0 167.8 1167.4 165.6C1170.8 163.4 1174.1 161.2 1177.5 159.1C1180.9 156.9 1184.2 154.8 1187.6 152.7C1191.0 150.6 1194.4 148.4 1197.8 146.3C1201.2 144.2 1204.7 142.1 1208.1 140.0C1211.5 137.9 1215.0 135.8 1218.4 133.8C1221.9 131.8 1225.3 129.8 1228.8 127.8C1232.3 125.8 1235.7 123.7 1239.2 121.7C1242.7 119.7 1246.1 117.8 1249.6 115.8C1253.1 113.8 1256.6 111.9 1260.1 109.9C1263.6 107.9 1267.0 106.1 1270.5 103.9C1274.0 101.7 1279.2 98.1 1281.0 96.9L158.3 96.9Z" fill="#fdc372" stroke="#fdc372" stroke-width="0.6"/>
<path d="M2246.5 96.9C2246.8 99.1 2247.8 105.8 2248.5 109.9C2249.2 114.1 2249.8 117.8 2250.4 121.8C2251.0 125.8 2251.8 129.7 2252.2 133.7C2252.6 137.7 2253.0 141.6 2253.1 145.6C2253.2 149.6 2253.0 153.6 2252.8 157.6C2252.6 161.6 2252.3 165.6 2252.1 169.6C2251.9 173.6 2251.7 177.6 2251.6 181.6C2251.5 185.6 2251.6 189.6 2251.3 193.6C2251.1 197.6 2250.7 201.6 2250.1 205.5C2249.5 209.4 2248.5 213.3 2247.5 217.2C2246.5 221.1 2245.3 224.9 2244.2 228.8C2243.1 232.7 2242.1 236.6 2241.0 240.4C2239.9 244.2 2238.8 248.1 2237.5 251.9C2236.2 255.7 2234.7 259.4 2233.1 263.0C2231.5 266.6 2229.3 270.0 2227.7 273.4C2226.1 276.8 2223.9 280.0 2223.5 283.1C2223.1 286.2 2223.8 289.3 2225.1 292.3C2226.4 295.3 2229.4 298.3 2231.2 301.2C2233.0 304.1 2235.4 307.0 2235.9 309.9C2236.4 312.8 2235.1 315.7 2234.2 318.8C2233.3 321.9 2231.3 325.2 2230.4 328.7C2229.5 332.2 2229.3 336.1 2229.0 339.9C2228.7 343.6 2229.0 347.4 2228.4 351.2C2227.8 355.0 2226.9 358.8 2225.7 362.5C2224.5 366.2 2222.9 369.9 2221.4 373.6C2219.9 377.3 2218.4 381.0 2216.9 384.7C2215.4 388.4 2214.2 392.3 2212.6 395.9C2211.0 399.5 2209.4 403.1 2207.3 406.4C2205.2 409.7 2202.6 412.7 2200.3 415.9C2198.1 419.1 2195.6 422.2 2193.8 425.7C2192.0 429.1 2190.6 432.8 2189.4 436.6C2188.2 440.4 2187.4 444.4 2186.8 448.3C2186.2 452.2 2185.8 456.2 2185.6 460.2C2185.4 464.2 2185.7 468.2 2185.6 472.2C2185.5 476.2 2185.6 480.1 2185.2 484.0C2184.8 487.9 2183.9 491.8 2182.9 495.6C2181.9 499.4 2180.5 503.2 2179.4 507.0C2178.3 510.8 2177.1 514.7 2176.1 518.6C2175.1 522.5 2174.2 526.4 2173.2 530.3C2172.2 534.2 2171.2 538.1 2170.2 542.0C2169.2 545.9 2168.2 549.8 2167.4 553.7C2166.6 557.6 2165.9 561.5 2165.4 565.5C2164.9 569.5 2164.8 573.5 2164.6 577.5C2164.4 581.5 2164.4 585.5 2164.5 589.5C2164.6 593.5 2164.9 597.4 2165.1 601.4C2165.3 605.4 2165.4 609.4 2165.5 613.4C2165.6 617.4 2165.3 621.3 2165.7 625.2C2166.1 629.1 2166.8 632.9 2168.0 636.6C2169.2 640.3 2170.9 643.9 2172.6 647.5C2174.3 651.1 2176.4 654.5 2178.4 658.0C2180.4 661.5 2182.5 664.9 2184.4 668.4C2186.3 671.9 2188.0 675.5 2189.8 679.0C2191.6 682.5 2193.1 686.1 2195.1 689.3C2197.1 692.5 2199.7 695.1 2201.8 698.1C2203.9 701.1 2205.8 704.0 2207.5 707.1C2209.2 710.2 2210.2 713.7 2212.1 716.9C2214.0 720.1 2216.2 723.2 2218.7 726.2C2221.1 729.2 2224.2 732.0 2226.8 735.0C2229.4 738.0 2232.2 740.9 2234.5 744.1C2236.8 747.3 2238.8 750.7 2240.7 754.1C2242.6 757.5 2244.0 761.2 2245.7 764.7C2247.4 768.2 2249.6 771.5 2251.1 775.0C2252.6 778.5 2253.8 782.1 2254.8 785.7C2255.8 789.3 2255.9 793.1 2257.0 796.8C2258.1 800.4 2259.5 804.1 2261.2 807.6C2262.9 811.1 2265.3 814.4 2267.3 817.8C2269.3 821.2 2271.6 824.5 2273.4 828.0C2275.2 831.5 2276.7 835.1 2278.0 838.7C2279.3 842.4 2280.0 846.3 2281.3 849.9C2282.7 853.5 2284.2 856.9 2286.1 860.4C2287.9 863.9 2290.3 867.2 2292.4 870.6C2294.5 874.0 2296.6 877.4 2298.6 880.9C2300.6 884.4 2302.4 888.0 2304.3 891.5C2306.2 895.0 2307.8 898.6 2309.9 902.0C2312.0 905.4 2314.2 908.6 2316.7 911.7C2319.2 914.8 2322.0 917.7 2324.8 920.5C2327.6 923.3 2330.6 926.0 2333.5 928.7C2336.4 931.4 2339.4 934.1 2342.5 936.7C2345.6 939.3 2348.7 941.9 2351.8 944.4C2354.9 946.9 2358.1 949.3 2361.2 951.9C2364.3 954.5 2367.3 957.1 2370.2 959.8C2373.1 962.5 2375.7 965.5 2378.6 968.3C2381.5 971.1 2384.3 973.9 2387.4 976.4C2390.5 978.9 2393.7 981.3 2397.0 983.5C2400.3 985.7 2403.8 987.8 2407.3 989.6C2410.9 991.5 2414.6 993.1 2418.3 994.6C2422.0 996.1 2425.8 997.4 2429.6 998.5C2433.4 999.6 2437.3 1000.4 2441.2 1001.2C2445.1 1002.0 2449.1 1002.6 2453.1 1003.2C2457.1 1003.8 2463.2 1004.7 2465.2 1005.0L2465.2 96.9Z" fill="#fdc372" stroke="#fdc372" stroke-width="0.6"/>
<path d="M158.3 452.5C160.6 452.8 167.7 453.6 172.0 454.1C176.3 454.6 180.0 455.2 184.0 455.7C188.0 456.2 192.0 456.8 196.0 457.3C200.0 457.8 204.0 458.4 208.0 458.9C212.0 459.4 216.0 460.0 220.0 460.5C224.0 461.0 228.0 461.6 232.0 462.1C236.0 462.6 240.0 463.2 244.0 463.7C248.0 464.2 252.0 464.8 256.0 465.3C260.0 465.8 264.0 466.3 268.0 466.8C272.0 467.3 276.0 467.8 280.0 468.3C284.0 468.8 288.0 469.3 292.0 469.7C296.0 470.1 300.1 470.5 304.1 470.9C308.1 471.3 312.1 471.7 316.1 472.0C320.1 472.3 324.2 472.6 328.2 472.9C332.2 473.2 336.3 473.4 340.3 473.6C344.3 473.8 348.3 474.0 352.3 474.2C356.3 474.4 360.4 474.6 364.4 474.7C368.4 474.8 372.5 474.9 376.5 475.0C380.5 475.1 384.6 475.1 388.6 475.1C392.6 475.1 396.7 475.1 400.7 475.1C404.7 475.1 408.8 475.1 412.8 475.0C416.8 474.9 420.9 474.8 424.9 474.7C428.9 474.6 433.0 474.4 437.0 474.2C441.0 474.0 445.1 473.8 449.1 473.6C453.1 473.4 457.1 473.1 461.1 472.8C465.1 472.5 469.2 472.1 473.2 471.7C477.2 471.3 481.2 471.0 485.2 470.5C489.2 470.0 493.2 469.5 497.1 468.9C501.1 468.3 505.0 467.6 508.9 466.9C512.8 466.1 516.7 465.3 520.6 464.4C524.5 463.5 528.4 462.5 532.2 461.4C536.0 460.3 539.8 459.1 543.5 457.8C547.2 456.5 551.0 455.0 554.7 453.6C558.4 452.2 562.2 450.7 565.9 449.2C569.6 447.7 573.3 446.1 577.0 444.5C580.7 442.9 584.4 441.4 588.1 439.8C591.8 438.2 595.5 436.5 599.2 434.9C602.9 433.3 606.6 431.7 610.2 430.0C613.9 428.3 617.5 426.6 621.1 424.9C624.7 423.2 628.4 421.4 632.0 419.6C635.6 417.8 639.2 416.0 642.8 414.2C646.4 412.4 650.0 410.5 653.6 408.6C657.2 406.7 660.7 404.8 664.2 402.8C667.7 400.9 671.3 398.9 674.8 396.9C678.3 394.9 681.8 392.9 685.3 390.9C688.8 388.9 692.2 386.8 695.7 384.7C699.2 382.6 702.7 380.6 706.1 378.5C709.5 376.4 713.0 374.3 716.4 372.2C719.8 370.1 723.3 368.0 726.7 365.9C730.1 363.8 733.6 361.6 737.0 359.5C740.4 357.4 743.9 355.2 747.3 353.1C750.7 351.0 754.1 348.8 757.5 346.6C760.9 344.5 764.3 342.4 767.7 340.2C771.1 338.0 774.6 335.8 778.0 333.6C781.4 331.4 784.7 329.3 788.1 327.1C791.5 324.9 794.9 322.7 798.3 320.5C801.7 318.3 805.0 316.0 808.4 313.8C811.8 311.6 815.1 309.4 818.5 307.2C821.9 305.0 825.2 302.7 828.6 300.5C832.0 298.3 835.3 296.1 838.7 293.9C842.1 291.7 845.4 289.4 848.8 287.2C852.1 284.9 855.5 282.7 858.8 280.4C862.1 278.1 865.5 275.9 868.8 273.6C872.1 271.3 875.5 269.0 878.8 266.7C882.1 264.4 885.4 262.0 888.7 259.7C892.0 257.4 895.2 255.0 898.5 252.7C901.8 250.4 905.1 248.0 908.4 245.7C911.7 243.3 914.9 241.0 918.2 238.6C921.5 236.2 924.8 233.9 928.0 231.5C931.2 229.1 934.5 226.7 937.7 224.3C940.9 221.9 944.2 219.4 947.4 217.0C950.6 214.6 953.8 212.2 957.0 209.8C960.2 207.4 963.5 204.9 966.7 202.5C970.0 200.1 973.2 197.7 976.5 195.3C979.8 192.9 983.0 190.6 986.3 188.3C989.6 186.0 992.9 183.6 996.2 181.3C999.5 179.0 1002.9 176.8 1006.2 174.5C1009.6 172.2 1012.9 170.0 1016.3 167.8C1019.7 165.6 1023.0 163.4 1026.4 161.2C1029.8 159.0 1033.2 156.8 1036.6 154.6C1040.0 152.4 1043.3 150.2 1046.7 148.0C1050.1 145.8 1053.4 143.5 1056.7 141.2C1060.0 138.9 1063.3 136.6 1066.6 134.3C1069.9 132.0 1073.2 129.7 1076.5 127.3C1079.8 124.9 1083.0 122.5 1086.2 120.1C1089.4 117.7 1092.7 115.2 1095.9 112.8C1099.1 110.3 1102.3 108.1 1105.5 105.4C1108.7 102.8 1113.4 98.3 1115.0 96.9L158.3 96.9Z" fill="#fed683" stroke="#fed683" stroke-width="0.6"/>
<path d="M2465.0 500.0C2463.0 499.8 2456.9 499.3 2452.8 498.9C2448.7 498.5 2444.6 498.0 2440.6 497.4C2436.6 496.8 2432.6 496.1 2428.7 495.2C2424.8 494.3 2420.8 493.1 2416.9 492.0C2413.0 490.9 2409.1 489.6 2405.2 488.3C2401.3 487.1 2397.4 485.7 2393.5 484.5C2389.6 483.3 2385.7 482.0 2381.8 481.0C2377.9 480.0 2373.9 478.9 2369.9 478.3C2365.9 477.7 2362.0 477.4 2358.0 477.5C2354.0 477.6 2350.0 478.2 2346.0 478.9C2342.0 479.6 2338.1 480.7 2334.2 481.9C2330.3 483.1 2326.4 484.4 2322.7 485.9C2318.9 487.4 2315.2 489.1 2311.7 491.0C2308.2 492.9 2304.7 495.0 2301.7 497.5C2298.7 500.0 2295.9 502.9 2293.9 506.0C2291.9 509.1 2290.4 512.8 2289.8 516.4C2289.2 520.0 2289.4 523.9 2290.2 527.4C2291.0 530.9 2292.7 534.5 2294.8 537.6C2296.9 540.7 2299.8 543.5 2302.8 546.0C2305.8 548.5 2309.3 550.6 2312.8 552.6C2316.3 554.6 2320.0 556.2 2323.8 557.7C2327.6 559.2 2331.5 560.3 2335.4 561.4C2339.3 562.5 2343.3 563.4 2347.3 564.1C2351.3 564.9 2355.3 565.4 2359.3 565.9C2363.3 566.4 2367.4 566.8 2371.5 567.1C2375.6 567.4 2379.7 567.7 2383.8 567.9C2387.9 568.1 2391.9 568.2 2396.0 568.2C2400.1 568.2 2404.2 568.2 2408.3 568.2C2412.4 568.2 2416.4 568.2 2420.5 568.2C2424.6 568.2 2428.7 568.2 2432.7 568.5C2436.7 568.8 2440.6 569.1 2444.3 570.1C2448.0 571.1 2451.6 572.7 2455.0 574.5C2458.4 576.3 2463.3 579.9 2465.0 581.0Z" fill="#fed683" stroke="#fed683" stroke-width="0.6"/>
<path d="M158.3 402.5C160.6 402.8 167.7 403.8 172.0 404.5C176.3 405.2 179.9 405.9 183.9 406.5C187.9 407.1 191.9 407.8 195.9 408.4C199.9 409.0 203.9 409.8 207.9 410.4C211.9 411.0 215.9 411.7 219.9 412.3C223.9 412.9 227.9 413.5 231.9 414.1C235.9 414.7 239.9 415.3 243.9 415.9C247.9 416.5 251.9 417.1 255.9 417.6C259.9 418.2 263.9 418.7 267.9 419.2C271.9 419.7 275.9 420.2 279.9 420.7C283.9 421.2 288.0 421.7 292.0 422.1C296.0 422.6 300.1 423.0 304.1 423.4C308.1 423.8 312.1 424.1 316.1 424.4C320.1 424.7 324.2 425.1 328.2 425.3C332.2 425.6 336.3 425.7 340.3 425.9C344.3 426.1 348.3 426.2 352.4 426.3C356.4 426.4 360.6 426.5 364.6 426.5C368.7 426.5 372.7 426.4 376.7 426.4C380.7 426.4 384.8 426.4 388.8 426.3C392.8 426.2 396.9 426.0 400.9 425.9C404.9 425.8 408.9 425.6 413.0 425.4C417.1 425.2 421.1 425.0 425.2 424.8C429.2 424.6 433.3 424.3 437.3 424.0C441.3 423.7 445.4 423.4 449.4 423.1C453.4 422.8 457.4 422.5 461.4 422.1C465.4 421.8 469.5 421.4 473.5 421.0C477.5 420.6 481.6 420.2 485.6 419.7C489.6 419.2 493.6 418.7 497.6 418.2C501.6 417.7 505.6 417.2 509.6 416.6C513.6 416.0 517.6 415.5 521.6 414.8C525.6 414.1 529.5 413.4 533.4 412.6C537.3 411.8 541.3 410.9 545.2 409.9C549.1 408.9 552.9 407.9 556.7 406.7C560.5 405.5 564.3 404.3 568.1 402.9C571.9 401.5 575.6 400.1 579.3 398.5C583.0 396.9 586.6 395.2 590.2 393.5C593.8 391.8 597.4 390.1 601.0 388.2C604.6 386.3 608.2 384.4 611.7 382.4C615.2 380.4 618.7 378.4 622.2 376.4C625.7 374.4 629.2 372.3 632.6 370.2C636.0 368.1 639.5 366.0 642.9 363.9C646.3 361.8 649.8 359.6 653.2 357.4C656.6 355.2 660.0 353.0 663.4 350.8C666.8 348.6 670.1 346.4 673.5 344.1C676.9 341.9 680.2 339.6 683.6 337.3C687.0 335.0 690.3 332.8 693.6 330.5C696.9 328.2 700.2 325.9 703.5 323.6C706.8 321.3 710.2 318.9 713.5 316.6C716.8 314.3 720.1 311.9 723.4 309.6C726.7 307.3 730.1 305.0 733.4 302.7C736.7 300.4 740.0 298.0 743.3 295.7C746.6 293.4 749.9 291.1 753.2 288.8C756.5 286.5 759.9 284.2 763.2 281.8C766.5 279.4 769.7 277.1 773.0 274.7C776.3 272.3 779.5 270.0 782.8 267.6C786.0 265.2 789.3 262.7 792.5 260.3C795.7 257.9 799.0 255.5 802.2 253.0C805.4 250.5 808.6 248.0 811.8 245.5C815.0 243.0 818.1 240.6 821.3 238.1C824.5 235.6 827.6 233.1 830.8 230.6C834.0 228.1 837.1 225.5 840.3 223.0C843.4 220.5 846.6 218.0 849.7 215.4C852.8 212.8 856.0 210.2 859.1 207.7C862.2 205.1 865.3 202.6 868.4 200.1C871.5 197.6 874.6 194.9 877.8 192.4C880.9 189.9 884.1 187.3 887.3 184.8C890.4 182.3 893.6 179.7 896.7 177.2C899.9 174.7 903.0 172.2 906.2 169.7C909.4 167.2 912.6 164.6 915.7 162.1C918.9 159.6 922.0 157.0 925.1 154.4C928.2 151.8 931.3 149.3 934.4 146.7C937.5 144.1 940.5 141.5 943.6 138.8C946.7 136.2 949.8 133.5 952.8 130.8C955.8 128.1 958.8 125.5 961.8 122.8C964.8 120.1 967.8 117.3 970.8 114.6C973.8 111.8 976.8 109.2 979.7 106.3C982.7 103.3 987.0 98.5 988.5 96.9L158.3 96.9Z" fill="#fee695" stroke="#fee695" stroke-width="0.6"/>
<path d="M158.3 362.0C160.6 362.2 167.7 362.9 171.9 363.3C176.2 363.7 179.8 364.0 183.8 364.4C187.8 364.8 191.8 365.1 195.8 365.4C199.8 365.7 203.7 365.9 207.7 366.1C211.7 366.3 215.7 366.5 219.7 366.6C223.7 366.7 227.7 366.7 231.7 366.7C235.7 366.7 239.7 366.7 243.7 366.7C247.7 366.7 251.7 366.6 255.7 366.5C259.7 366.4 263.7 366.3 267.7 366.2C271.7 366.1 275.7 365.9 279.7 365.8C283.7 365.7 287.7 365.6 291.7 365.4C295.7 365.2 299.6 365.0 303.6 364.8C307.6 364.6 311.6 364.4 315.6 364.2C319.6 364.0 323.6 363.8 327.6 363.6C331.6 363.4 335.6 363.1 339.6 362.9C343.6 362.6 347.6 362.4 351.6 362.1C355.6 361.8 359.5 361.5 363.5 361.2C367.5 360.9 371.5 360.5 375.5 360.2C379.5 359.9 383.4 359.6 387.4 359.2C391.4 358.8 395.4 358.4 399.4 358.0C403.4 357.6 407.3 357.2 411.3 356.8C415.3 356.4 419.3 355.9 423.3 355.5C427.3 355.1 431.2 354.6 435.2 354.2C439.2 353.8 443.1 353.3 447.1 352.8C451.1 352.3 455.0 351.9 459.0 351.4C463.0 350.9 467.0 350.4 471.0 350.0C475.0 349.6 478.9 349.1 482.9 348.7C486.9 348.3 490.8 347.8 494.8 347.4C498.8 347.0 502.7 346.5 506.7 346.1C510.7 345.7 514.7 345.3 518.7 344.9C522.7 344.5 526.6 344.0 530.6 343.6C534.6 343.2 538.5 342.8 542.5 342.4C546.5 342.0 550.4 341.5 554.4 341.0C558.4 340.5 562.3 340.1 566.3 339.5C570.2 338.9 574.2 338.3 578.1 337.6C582.0 336.9 585.9 336.1 589.7 335.2C593.6 334.3 597.4 333.3 601.2 332.2C605.0 331.1 608.7 329.8 612.4 328.5C616.1 327.2 619.9 325.8 623.5 324.3C627.1 322.8 630.7 321.1 634.3 319.4C637.9 317.7 641.5 315.9 645.0 314.0C648.5 312.1 652.0 310.2 655.4 308.2C658.8 306.2 662.2 304.0 665.6 301.9C669.0 299.8 672.2 297.6 675.5 295.3C678.8 293.0 682.0 290.7 685.2 288.3C688.4 285.9 691.6 283.5 694.7 281.0C697.8 278.5 700.9 276.0 703.9 273.4C706.9 270.8 710.0 268.2 713.0 265.6C716.0 263.0 718.9 260.4 721.9 257.7C724.9 255.0 727.8 252.3 730.8 249.6C733.8 246.9 736.7 244.3 739.7 241.6C742.7 238.9 745.7 236.2 748.6 233.5C751.5 230.8 754.5 228.1 757.4 225.4C760.3 222.7 763.3 219.9 766.2 217.2C769.1 214.5 772.1 211.7 775.0 209.0C777.9 206.3 780.9 203.6 783.8 200.9C786.7 198.2 789.7 195.4 792.6 192.7C795.5 190.0 798.5 187.3 801.4 184.6C804.3 181.9 807.3 179.2 810.3 176.5C813.3 173.8 816.2 171.2 819.2 168.5C822.2 165.8 825.2 163.2 828.2 160.5C831.2 157.8 834.2 155.2 837.2 152.6C840.2 150.0 843.2 147.3 846.2 144.7C849.2 142.1 852.3 139.5 855.3 136.9C858.3 134.3 861.3 131.7 864.4 129.1C867.5 126.5 870.5 123.9 873.6 121.3C876.7 118.7 879.7 116.1 882.7 113.5C885.8 110.9 888.9 108.6 891.9 105.8C894.9 103.0 899.5 98.4 901.0 96.9L158.3 96.9Z" fill="#fff2aa" stroke="#fff2aa" stroke-width="0.6"/>
<path d="M158.3 311.4C160.6 311.6 167.7 312.1 172.0 312.4C176.3 312.7 180.0 313.1 184.0 313.4C188.0 313.7 192.0 314.0 196.0 314.3C200.0 314.6 204.0 314.9 208.0 315.1C212.0 315.3 216.1 315.5 220.1 315.7C224.1 315.9 228.1 316.0 232.1 316.1C236.1 316.2 240.1 316.3 244.1 316.3C248.1 316.3 252.1 316.3 256.1 316.2C260.1 316.1 264.2 316.0 268.2 315.8C272.2 315.6 276.2 315.5 280.2 315.2C284.2 314.9 288.2 314.6 292.2 314.2C296.2 313.8 300.1 313.4 304.1 313.0C308.1 312.6 312.1 312.1 316.1 311.6C320.1 311.1 324.0 310.6 328.0 310.0C332.0 309.4 335.9 308.8 339.9 308.2C343.9 307.6 347.8 307.0 351.8 306.4C355.8 305.8 359.7 305.1 363.7 304.4C367.7 303.7 371.6 303.1 375.6 302.4C379.6 301.7 383.6 301.0 387.5 300.3C391.4 299.6 395.4 299.0 399.3 298.3C403.2 297.6 407.2 296.8 411.2 296.1C415.1 295.4 419.1 294.6 423.0 293.9C426.9 293.1 430.9 292.4 434.8 291.6C438.7 290.8 442.7 290.0 446.6 289.1C450.5 288.2 454.5 287.4 458.4 286.5C462.3 285.6 466.2 284.7 470.1 283.8C474.0 282.9 477.9 281.9 481.8 280.9C485.7 279.9 489.6 278.9 493.5 277.9C497.4 276.9 501.2 275.8 505.1 274.8C509.0 273.8 512.9 272.8 516.8 271.7C520.7 270.6 524.5 269.6 528.4 268.5C532.3 267.4 536.1 266.4 540.0 265.3C543.9 264.2 547.8 263.0 551.6 261.9C555.5 260.8 559.2 259.7 563.1 258.6C567.0 257.5 570.9 256.3 574.7 255.1C578.6 253.9 582.4 252.8 586.2 251.6C590.0 250.4 593.9 249.3 597.7 248.1C601.5 246.9 605.4 245.7 609.2 244.5C613.0 243.3 616.8 242.0 620.6 240.7C624.4 239.4 628.2 238.1 632.0 236.8C635.8 235.5 639.5 234.1 643.3 232.7C647.0 231.3 650.8 229.7 654.5 228.2C658.2 226.7 661.9 225.2 665.5 223.5C669.1 221.8 672.7 220.1 676.3 218.3C679.9 216.5 683.5 214.8 687.0 212.9C690.5 211.0 694.0 209.0 697.5 207.0C701.0 205.0 704.4 202.8 707.7 200.7C711.1 198.5 714.3 196.4 717.6 194.1C720.9 191.8 724.2 189.4 727.4 187.0C730.6 184.6 733.8 182.2 736.9 179.7C740.0 177.2 743.1 174.8 746.2 172.2C749.3 169.6 752.4 167.0 755.5 164.4C758.6 161.8 761.6 159.2 764.6 156.6C767.6 154.0 770.6 151.4 773.6 148.7C776.6 146.0 779.6 143.3 782.6 140.6C785.6 137.9 788.5 135.2 791.4 132.4C794.3 129.6 797.2 126.8 800.0 124.0C802.8 121.2 805.6 118.4 808.4 115.5C811.2 112.6 814.0 109.9 816.8 106.8C819.6 103.7 823.6 98.6 825.0 96.9L158.3 96.9Z" fill="#fffebe" stroke="#fffebe" stroke-width="0.6"/>
<path d="M158.3 267.6C160.6 267.7 167.7 268.0 172.0 268.2C176.3 268.4 180.0 268.5 184.0 268.7C188.0 268.9 192.0 269.0 196.0 269.1C200.0 269.2 204.0 269.2 208.0 269.2C212.0 269.2 216.0 269.0 220.0 268.9C224.0 268.8 228.0 268.6 232.0 268.4C236.0 268.2 239.9 267.8 243.9 267.5C247.9 267.2 251.9 266.8 255.9 266.4C259.9 266.0 263.9 265.4 267.8 264.9C271.8 264.4 275.7 263.8 279.6 263.2C283.6 262.6 287.6 262.0 291.5 261.3C295.4 260.6 299.4 259.9 303.3 259.2C307.2 258.5 311.2 257.8 315.1 257.0C319.0 256.2 323.0 255.5 326.9 254.7C330.8 253.9 334.8 253.1 338.7 252.3C342.6 251.5 346.6 250.7 350.5 249.9C354.4 249.1 358.4 248.3 362.3 247.5C366.2 246.7 370.1 245.8 374.0 245.0C377.9 244.2 381.9 243.3 385.8 242.5C389.7 241.7 393.6 240.8 397.5 239.9C401.4 239.0 405.4 238.2 409.3 237.3C413.2 236.4 417.1 235.4 421.0 234.5C424.9 233.6 428.7 232.7 432.6 231.7C436.5 230.7 440.3 229.6 444.2 228.6C448.1 227.6 451.9 226.5 455.8 225.4C459.7 224.3 463.5 223.2 467.3 222.0C471.1 220.8 475.0 219.7 478.8 218.5C482.6 217.3 486.5 216.0 490.3 214.8C494.1 213.6 497.9 212.3 501.7 211.1C505.5 209.9 509.3 208.7 513.1 207.4C516.9 206.1 520.7 204.8 524.5 203.5C528.3 202.2 532.1 201.0 535.9 199.7C539.7 198.4 543.5 197.1 547.3 195.8C551.1 194.5 554.8 193.2 558.6 191.8C562.4 190.5 566.1 189.1 569.9 187.7C573.7 186.3 577.5 184.9 581.2 183.5C585.0 182.1 588.7 180.6 592.4 179.1C596.1 177.6 599.8 176.1 603.5 174.6C607.2 173.1 610.9 171.6 614.6 170.1C618.3 168.6 622.0 166.9 625.7 165.4C629.4 163.9 633.1 162.3 636.8 160.8C640.5 159.3 644.2 157.8 647.9 156.2C651.6 154.6 655.3 153.1 659.0 151.5C662.7 149.9 666.4 148.4 670.0 146.8C673.6 145.2 677.3 143.6 680.9 141.9C684.5 140.2 688.1 138.5 691.7 136.7C695.3 134.9 698.8 133.1 702.3 131.2C705.8 129.3 709.3 127.3 712.7 125.3C716.1 123.2 719.5 121.1 722.8 118.9C726.1 116.7 729.4 114.4 732.7 112.1C736.0 109.8 739.2 107.6 742.4 105.1C745.6 102.6 750.4 98.3 752.0 96.9L158.3 96.9Z" fill="#eff8aa" stroke="#eff8aa" stroke-width="0.6"/>
<path d="M158.3 183.8C160.6 184.1 167.8 185.1 172.1 185.7C176.4 186.3 180.2 186.8 184.2 187.4C188.2 188.0 192.3 188.6 196.3 189.1C200.3 189.6 204.4 190.1 208.4 190.5C212.4 190.9 216.4 191.3 220.5 191.7C224.6 192.0 228.6 192.3 232.7 192.6C236.8 192.8 240.8 193.1 244.9 193.2C249.0 193.3 253.1 193.4 257.1 193.4C261.2 193.4 265.1 193.3 269.2 193.2C273.2 193.1 277.3 192.9 281.4 192.6C285.4 192.3 289.5 192.0 293.5 191.6C297.5 191.2 301.6 190.6 305.6 190.1C309.6 189.6 313.7 189.0 317.7 188.3C321.7 187.6 325.7 186.9 329.7 186.1C333.7 185.3 337.6 184.5 341.6 183.7C345.6 182.9 349.6 182.0 353.6 181.1C357.6 180.2 361.6 179.3 365.5 178.3C369.4 177.3 373.4 176.3 377.3 175.3C381.2 174.3 385.2 173.2 389.1 172.2C393.0 171.1 397.0 170.1 400.9 169.0C404.8 167.9 408.8 166.8 412.7 165.7C416.6 164.6 420.5 163.5 424.4 162.3C428.3 161.2 432.2 160.0 436.1 158.8C440.0 157.6 443.9 156.3 447.8 155.1C451.7 153.9 455.6 152.7 459.5 151.4C463.4 150.2 467.2 148.9 471.1 147.6C475.0 146.3 478.9 145.0 482.7 143.7C486.5 142.4 490.4 141.0 494.2 139.7C498.0 138.3 501.9 137.0 505.7 135.6C509.5 134.2 513.4 132.8 517.2 131.3C521.0 129.9 524.8 128.4 528.6 126.9C532.4 125.4 536.1 123.8 539.9 122.3C543.7 120.8 547.4 119.3 551.2 117.7C555.0 116.1 558.8 114.5 562.5 112.9C566.2 111.3 570.0 109.7 573.7 108.0C577.4 106.3 581.1 104.8 584.8 103.0C588.5 101.2 594.1 97.9 596.0 96.9L158.3 96.9Z" fill="#e0f295" stroke="#e0f295" stroke-width="0.6"/>
<path d="M158.3 113.0C160.6 113.2 167.9 113.7 172.3 114.1C176.7 114.5 180.4 114.8 184.5 115.2C188.6 115.6 192.7 115.9 196.8 116.2C200.9 116.5 204.9 116.8 209.0 117.1C213.1 117.3 217.2 117.5 221.3 117.7C225.4 117.9 229.5 118.0 233.6 118.0C237.7 118.0 241.7 118.1 245.8 118.0C249.9 117.9 253.9 117.7 258.0 117.5C262.1 117.3 266.2 117.0 270.3 116.6C274.4 116.2 278.4 115.8 282.4 115.2C286.4 114.7 290.5 114.0 294.5 113.3C298.5 112.6 302.5 111.8 306.5 110.9C310.5 110.1 314.4 109.2 318.4 108.2C322.4 107.2 326.4 106.1 330.3 105.0C334.2 103.9 338.2 102.9 342.1 101.6C346.0 100.2 351.9 97.7 353.8 96.9L158.3 96.9Z" fill="#cfeb85" stroke="#cfeb85" stroke-width="0.6"/>
</g>
<g fill="none" stroke="#808080" stroke-width="1.05" stroke-linejoin="round">
<path d="M158.0 107.4C164.5 109.1 184.2 114.7 197.0 117.6C209.8 120.5 222.0 123.3 234.5 125.0C247.0 126.7 259.4 127.7 271.8 127.9C284.2 128.1 296.6 126.9 309.0 126.0C321.4 125.1 333.6 123.8 346.0 122.3C358.4 120.8 371.1 119.3 383.6 116.7C396.1 114.1 410.8 109.8 421.0 106.5C431.2 103.2 441.0 98.6 445.0 97.0"/>
<path d="M158.0 169.8C164.5 170.4 184.2 171.6 197.0 173.5C209.8 175.4 222.0 179.3 234.5 181.0C247.0 182.7 259.4 183.8 271.8 183.8C284.2 183.8 296.6 182.2 309.0 181.0C321.4 179.8 330.5 178.0 346.0 176.3C361.5 174.6 383.3 173.5 402.0 170.7C420.7 167.9 439.3 164.1 458.0 159.6C476.7 155.1 498.8 148.0 514.0 143.7C529.2 139.3 543.5 135.2 549.4 133.5"/>
<path d="M601.6 113.9C606.8 111.5 626.6 102.5 633.0 99.5C639.4 96.5 638.8 96.6 640.0 96.0"/>
<path d="M158.0 225.7C164.5 226.8 184.2 230.3 197.0 232.2C209.8 234.1 225.2 236.1 234.5 236.9C243.8 237.8 245.8 237.6 253.0 237.3C260.1 237.0 268.1 235.1 277.4 235.0C286.7 234.9 297.6 236.3 309.0 236.5C320.4 236.7 333.6 236.7 346.0 236.0C358.4 235.3 368.0 234.2 383.6 232.2C399.2 230.2 420.9 227.1 439.5 223.8C458.1 220.6 479.9 215.9 495.4 212.7C510.9 209.4 523.6 206.0 532.6 204.3C541.6 202.6 546.6 202.7 549.4 202.4"/>
<path d="M603.0 189.4C610.5 187.7 634.0 182.4 647.7 179.0C661.4 175.6 672.6 172.3 685.0 168.9C697.4 165.5 714.2 160.9 722.2 158.6C730.2 156.3 723.5 158.5 732.8 154.9C742.1 151.3 764.2 142.3 778.0 137.2C791.8 132.1 806.1 127.5 815.4 124.2C824.7 120.9 827.8 120.2 834.0 117.6C840.2 114.9 846.7 111.4 852.6 108.3C858.5 105.2 865.7 101.0 869.4 99.0C873.1 97.0 874.1 96.5 875.0 96.0"/>
<path d="M158.0 284.4C164.5 285.3 184.2 288.3 197.0 290.0C209.8 291.7 222.0 293.1 234.5 294.6C247.0 296.2 259.4 297.9 271.8 299.3C284.2 300.7 296.6 302.1 309.0 303.0C321.4 303.9 333.6 304.3 346.0 304.5C358.4 304.7 371.1 304.6 383.6 304.0C396.1 303.4 408.6 302.4 421.0 301.2C433.4 299.9 445.6 298.1 458.0 296.5C470.4 294.9 486.1 293.2 495.4 291.8C504.7 290.4 507.8 289.2 514.0 288.1C520.2 287.0 524.5 286.2 532.6 285.3C540.7 284.4 557.5 283.0 562.5 282.5"/>
<path d="M616.0 274.1L647.7 269.5L666.3 265.8L694.3 259.2L718.5 256.4L732.8 253.3L759.5 246.2L787.4 236.9L824.7 228.5L852.6 220.1L878.6 211.7L901.0 204.3L921.5 194.0L938.3 185.6L949.4 180.6L962.5 181.5L973.7 167.0L990.4 161.4L1007.2 164.2L1014.6 164.6L1027.7 160.5L1046.3 149.3L1065.0 139.0L1083.6 123.2L1102.2 109.2L1116.2 99.0L1120.0 96.0"/>
<path d="M158.0 359.4C163.9 360.4 181.9 363.4 193.4 365.2C204.9 367.0 215.7 368.7 226.8 370.2C237.9 371.7 252.1 373.6 260.2 374.4C268.3 375.2 272.7 375.1 275.2 375.2"/>
<path d="M330.3 378.6C335.3 378.5 349.7 377.8 360.3 378.2C370.9 378.6 382.6 380.1 393.7 381.0C404.8 381.9 417.6 383.0 427.1 383.6C436.6 384.2 442.1 384.7 450.5 384.4C458.9 384.1 467.2 382.4 477.2 381.6C487.2 380.8 500.6 380.0 510.6 379.4C520.6 378.8 525.9 378.9 537.5 377.8C549.1 376.6 567.5 374.0 580.0 372.8C592.5 371.5 602.5 370.9 612.5 370.2C622.5 369.6 631.7 370.5 640.0 369.0C648.3 367.5 653.3 364.1 662.5 361.5C671.7 358.9 683.8 355.4 695.0 353.5C706.2 351.6 722.1 350.6 730.0 350.2C737.9 349.9 737.9 350.0 742.5 351.5C747.1 353.0 753.3 357.8 757.5 359.0C761.7 360.2 761.7 360.2 767.5 359.0C773.3 357.8 784.2 353.8 792.5 351.5C800.8 349.2 807.1 349.6 817.5 345.2C827.9 340.9 845.8 329.2 855.0 325.2C864.2 321.3 866.2 323.4 872.5 321.5C878.8 319.6 885.6 316.0 892.5 314.0C899.4 312.0 907.6 309.8 914.0 309.5C920.4 309.2 925.8 312.3 930.8 312.3C935.8 312.3 937.0 312.4 943.8 309.5C950.6 306.6 960.9 300.8 971.8 294.6C982.7 288.4 996.6 280.1 1009.0 272.3C1021.4 264.5 1033.9 256.2 1046.3 248.0C1058.7 239.8 1071.2 231.6 1083.6 222.9C1096.0 214.2 1108.5 206.0 1120.9 195.9C1133.3 185.8 1145.7 172.3 1158.1 162.4C1170.5 152.5 1183.0 144.1 1195.4 136.3C1207.8 128.5 1220.8 122.0 1232.6 115.8C1244.4 109.6 1259.6 102.3 1266.2 99.0C1272.8 95.7 1271.0 96.5 1272.0 96.0"/>
<path d="M158.0 432.5C166.7 434.2 193.0 439.2 210.0 442.5C227.0 445.8 243.3 449.2 260.0 452.5C276.7 455.8 293.3 459.4 310.0 462.5C326.7 465.6 343.3 468.3 360.0 471.2C376.7 474.2 391.2 477.9 410.0 480.0C428.8 482.1 455.8 483.3 472.5 483.8C489.2 484.2 497.5 483.0 510.0 482.5C522.5 482.0 537.1 482.0 547.5 480.5C557.9 479.0 565.0 476.0 572.5 473.8C580.0 471.5 586.7 468.2 592.5 467.0C598.3 465.8 602.9 464.5 607.5 466.2C612.1 468.0 613.8 474.7 620.0 477.5C626.2 480.3 634.2 482.9 645.0 483.0C655.8 483.1 670.4 479.8 685.0 478.0C699.6 476.2 718.8 473.0 732.5 472.0C746.2 471.0 755.6 474.1 767.5 472.0C779.4 469.9 793.8 462.9 804.0 459.5C814.2 456.1 818.6 455.8 829.0 451.5C839.4 447.2 851.9 440.7 866.5 434.0C881.1 427.3 901.9 418.6 916.5 411.5C931.1 404.4 941.5 399.0 954.0 391.5C966.5 384.0 980.7 373.6 991.5 366.5C1002.3 359.4 1014.4 351.9 1019.0 349.0"/>
<path d="M1069.0 319.0C1074.8 315.7 1089.8 307.3 1104.0 299.0C1118.2 290.7 1137.3 279.0 1154.0 269.0C1170.7 259.0 1187.3 247.8 1204.0 239.0C1220.7 230.2 1236.1 225.2 1254.0 216.5C1271.9 207.8 1294.8 195.2 1311.5 186.5C1328.2 177.8 1338.6 171.9 1354.0 164.0C1369.4 156.1 1388.3 146.9 1404.0 139.0C1419.7 131.1 1435.2 123.2 1448.0 116.5C1460.8 109.8 1474.2 102.4 1480.5 99.0C1486.8 95.6 1485.1 96.5 1486.0 96.0"/>
<path d="M158.0 552.5C164.6 554.6 184.7 560.4 197.5 565.0C210.3 569.6 223.8 575.8 235.0 580.0C246.2 584.2 256.7 586.2 265.0 590.0C273.3 593.8 273.3 598.3 285.0 602.5C296.7 606.7 318.3 611.0 335.0 615.0C351.7 619.0 368.3 623.5 385.0 626.2C401.7 629.0 422.5 630.1 435.0 631.2C447.5 632.4 447.5 632.9 460.0 633.0C472.5 633.1 497.5 632.5 510.0 632.0C522.5 631.5 522.5 631.8 535.0 630.0C547.5 628.2 570.4 623.8 585.0 621.2C599.6 618.8 613.3 616.2 622.5 615.0C631.7 613.8 629.6 616.0 640.0 613.8C650.4 611.5 669.6 606.2 685.0 601.2C700.4 596.2 717.9 589.4 732.5 583.8C747.1 578.1 760.6 572.1 772.5 567.5C784.4 562.9 793.3 559.4 804.0 556.0C814.7 552.6 824.0 551.4 836.5 547.0C849.0 542.6 863.6 536.2 879.0 529.5C894.4 522.8 912.3 514.5 929.0 507.0C945.7 499.5 962.3 491.3 979.0 484.5C995.7 477.7 1006.9 476.5 1029.0 466.0C1051.1 455.5 1090.7 433.1 1111.5 421.5C1132.3 409.9 1136.9 405.0 1154.0 396.5C1171.1 388.0 1201.1 376.3 1214.0 370.2C1226.9 364.2 1228.6 361.9 1231.5 360.2"/>
<path d="M1279.0 334.0C1284.4 331.1 1296.9 324.4 1311.5 316.5C1326.1 308.6 1351.1 294.0 1366.5 286.5C1381.9 279.0 1390.4 277.2 1404.0 271.5C1417.6 265.8 1432.3 259.1 1448.0 252.0C1463.7 244.9 1481.3 235.5 1498.0 229.0C1514.7 222.5 1531.3 217.8 1548.0 212.8C1564.7 207.8 1581.3 202.8 1598.0 199.0C1614.7 195.2 1631.3 193.0 1648.0 190.2C1664.7 187.5 1681.3 184.6 1698.0 182.8C1714.7 180.9 1731.3 180.7 1748.0 179.0C1764.7 177.3 1781.3 174.3 1798.0 172.8C1814.7 171.2 1832.6 170.7 1848.0 169.8C1863.4 168.8 1878.0 168.8 1890.5 167.0C1903.0 165.2 1913.4 162.2 1923.0 159.0C1932.6 155.8 1939.7 152.3 1948.0 147.8C1956.3 143.2 1965.9 137.1 1973.0 131.5C1980.1 125.9 1985.1 119.4 1990.5 114.0C1995.9 108.6 2002.6 102.0 2005.5 99.0C2008.4 96.0 2007.6 96.5 2008.0 96.0"/>
<path d="M158.0 941.0C166.7 938.0 193.0 929.3 210.0 923.0C227.0 916.7 243.3 910.5 260.0 903.0C276.7 895.5 293.3 886.3 310.0 878.0C326.7 869.7 345.0 860.1 360.0 853.0C375.0 845.9 389.2 840.2 400.0 835.5C410.8 830.8 413.3 829.5 425.0 825.0C436.7 820.5 458.3 812.1 470.0 808.2C481.7 804.4 488.3 803.4 495.0 802.0C501.7 800.6 505.8 800.0 510.0 800.0C514.2 800.0 515.8 801.8 520.0 802.0C524.2 802.2 524.2 804.6 535.0 801.5C545.8 798.4 564.2 791.5 585.0 783.2C605.8 775.0 639.2 760.8 660.0 752.0C680.8 743.2 693.3 737.4 710.0 730.8C726.7 724.1 744.3 718.0 760.0 712.0C775.7 706.0 789.2 699.5 804.0 694.5C818.8 689.5 836.5 686.2 849.0 682.0C861.5 677.8 867.8 674.1 879.0 669.5C890.2 664.9 905.7 658.8 916.5 654.5C927.3 650.2 939.4 645.8 944.0 644.0"/>
<path d="M995.2 625.8C1002.1 623.2 1022.5 615.5 1036.5 610.8C1050.5 606.0 1063.6 602.0 1079.0 597.0C1094.4 592.0 1116.5 585.3 1129.0 580.8C1141.5 576.2 1141.5 576.4 1154.0 569.5C1166.5 562.6 1187.3 548.7 1204.0 539.5C1220.7 530.3 1236.1 522.6 1254.0 514.5C1271.9 506.4 1292.8 498.9 1311.5 490.8C1330.2 482.6 1353.4 471.5 1366.5 465.8C1379.6 460.0 1375.2 461.0 1390.0 456.5C1404.8 452.0 1435.8 444.8 1455.0 439.0C1474.2 433.2 1491.7 426.1 1505.0 421.5C1518.3 416.9 1525.0 413.4 1535.0 411.5C1545.0 409.6 1556.7 408.8 1565.0 410.0C1573.3 411.2 1580.0 413.3 1585.0 419.0C1590.0 424.7 1592.1 437.8 1595.0 444.0C1597.9 450.2 1603.3 448.2 1602.5 456.5C1601.7 464.8 1594.6 481.9 1590.0 494.0C1585.4 506.1 1578.3 520.7 1575.0 529.0C1571.7 537.3 1567.5 540.2 1570.0 544.0C1572.5 547.8 1583.3 548.2 1590.0 551.5C1596.7 554.8 1607.5 556.1 1610.0 564.0C1612.5 571.9 1607.9 584.8 1605.0 599.0C1602.1 613.2 1593.3 634.0 1592.5 649.0C1591.7 664.0 1595.8 679.4 1600.0 689.0C1604.2 698.6 1614.2 700.5 1617.5 706.5C1620.8 712.5 1622.1 718.1 1620.0 725.0C1617.9 731.9 1612.5 740.8 1605.0 748.0C1597.5 755.2 1585.0 762.3 1575.0 768.0C1565.0 773.7 1561.7 777.8 1545.0 782.0C1528.3 786.2 1496.7 787.4 1475.0 793.5C1453.3 799.6 1430.8 810.2 1415.0 818.5C1399.2 826.8 1393.3 835.6 1380.0 843.0C1366.7 850.4 1346.7 857.6 1335.0 863.0C1323.3 868.4 1322.5 869.2 1310.0 875.5C1297.5 881.8 1276.7 890.9 1260.0 900.5C1243.3 910.1 1226.7 921.8 1210.0 933.0C1193.3 944.2 1176.7 954.7 1160.0 968.0C1143.3 981.3 1122.5 1000.5 1110.0 1013.0C1097.5 1025.5 1093.3 1035.5 1085.0 1043.0C1076.7 1050.5 1072.5 1053.0 1060.0 1058.0C1047.5 1063.0 1026.7 1066.3 1010.0 1073.0C993.3 1079.7 976.7 1091.3 960.0 1098.0C943.3 1104.7 923.3 1109.2 910.0 1113.0C896.7 1116.8 892.5 1119.7 880.0 1120.5C867.5 1121.3 848.3 1115.5 835.0 1118.0C821.7 1120.5 816.7 1128.8 800.0 1135.5C783.3 1142.2 750.8 1152.2 735.0 1158.0C719.2 1163.8 717.5 1167.2 705.0 1170.5C692.5 1173.8 675.8 1176.3 660.0 1178.0C644.2 1179.7 626.7 1180.1 610.0 1180.5C593.3 1180.9 575.0 1181.5 560.0 1180.5C545.0 1179.5 533.3 1174.5 520.0 1174.5C506.7 1174.5 495.0 1179.5 480.0 1180.5C465.0 1181.5 443.3 1181.8 430.0 1180.5C416.7 1179.2 408.3 1173.8 400.0 1173.0C391.7 1172.2 386.7 1176.1 380.0 1175.5C373.3 1174.9 369.2 1170.8 360.0 1169.5C350.8 1168.2 331.7 1169.2 325.0 1168.0C318.3 1166.8 330.0 1163.0 320.0 1162.0C310.0 1161.0 278.3 1162.9 265.0 1162.0C251.7 1161.1 250.0 1157.4 240.0 1156.5C230.0 1155.6 214.2 1155.4 205.0 1156.5C195.8 1157.6 192.8 1160.9 185.0 1163.0C177.2 1165.1 162.5 1168.0 158.0 1169.0"/>
<path d="M903.0 1402.0L905.0 1399.0L920.0 1378.0L950.0 1380.5L970.0 1368.0L985.0 1348.0L1020.0 1338.0L1060.0 1330.5L1075.0 1313.0L1100.0 1309.0"/>
<path d="M1155.0 1273.0C1160.0 1270.5 1171.7 1263.8 1185.0 1258.0C1198.3 1252.2 1224.2 1244.7 1235.0 1238.0C1245.8 1231.3 1245.8 1225.5 1250.0 1218.0C1254.2 1210.5 1256.7 1200.5 1260.0 1193.0C1263.3 1185.5 1265.8 1179.7 1270.0 1173.0C1274.2 1166.3 1278.3 1158.4 1285.0 1153.0C1291.7 1147.6 1305.0 1145.5 1310.0 1140.5C1315.0 1135.5 1312.9 1131.8 1315.0 1123.0C1317.1 1114.2 1315.0 1098.8 1322.5 1088.0C1330.0 1077.2 1347.1 1069.7 1360.0 1058.0C1372.9 1046.3 1385.3 1030.4 1400.0 1018.0C1414.7 1005.6 1440.0 989.5 1448.0 983.8"/>
<path d="M1634.2 359.5L1645.5 359.0L1660.5 361.0L1663.0 369.0L1669.2 374.0L1660.5 386.5L1653.0 396.0L1645.5 390.2L1650.5 381.5L1645.5 374.0L1643.0 364.0Z"/>
<path d="M1678.0 341.5L1684.2 335.2L1691.8 335.2L1698.0 342.8L1708.0 340.2L1723.0 345.2L1726.8 361.5L1720.5 376.5L1716.8 384.0L1711.8 384.5"/>
<path d="M1698.0 342.8L1690.5 351.5L1689.2 364.0L1696.8 366.5L1708.0 367.8L1712.5 372.8L1703.0 381.5L1698.0 386.5"/>
<path d="M1690.5 370.2L1696.8 367.0L1697.5 372.8L1691.0 373.2Z"/>
<path d="M1660.5 410.2L1666.8 407.0L1672.5 409.8L1666.0 412.8Z"/>
<path d="M1676.8 416.0L1681.8 415.2"/>
<path d="M1684.2 407.8L1691.8 404.5L1694.2 411.5L1690.5 417.0L1685.5 414.5Z"/>
<path d="M1858.0 272.2L1866.0 272.2"/>
<path d="M1859.2 291.0L1871.8 285.2L1872.5 292.0L1865.0 294.8Z"/>
<path d="M1945.5 409.0L1955.5 407.2L1961.8 410.2L1961.2 417.8L1946.8 419.0Z"/>
<path d="M1895.5 416.0L1898.0 416.0"/>
<path d="M1901.8 409.0L1903.0 411.5"/>
<path d="M1931.8 390.2L1934.2 391.0"/>
<path d="M2092.0 290.2L2078.0 291.5L2063.0 301.5L2053.0 319.0L2054.2 331.5L2055.5 341.5L2048.0 354.0L2033.0 361.0L2025.5 359.0L2015.5 351.5L1998.0 346.5L1975.5 345.2L1966.8 347.0L1980.5 356.5L1998.0 369.0L2010.5 384.0L2025.5 390.2L2033.0 397.8L2028.0 406.5L2008.0 415.2L1980.5 417.0L1975.5 421.5L1963.0 422.0L1961.8 431.5L1963.5 441.5L1958.0 451.5L1963.0 462.0"/>
<path d="M2092.0 290.2L2101.5 290.2L2114.0 294.0L2131.5 291.5L2144.0 294.0L2151.5 297.8L2164.0 295.2L2174.0 299.0L2189.0 301.5L2201.5 304.0L2211.5 300.2L2219.0 297.8L2229.0 301.0L2239.0 305.2L2249.0 311.5L2259.0 315.2L2269.0 312.8L2281.5 319.0L2294.0 316.5L2306.5 312.8L2314.0 307.8L2321.5 311.5L2334.0 312.8L2351.5 312.8L2364.0 311.5L2371.5 304.0L2374.5 291.5L2371.5 274.0L2364.0 256.5L2351.5 242.8L2350.2 236.5L2364.0 224.0L2376.5 209.0L2381.5 199.0L2396.5 195.2L2406.5 186.5L2416.5 179.0L2419.0 172.8L2439.0 174.0L2463.0 182.8L2466.5 184.0"/>
<path d="M2244.0 314.0L2231.5 316.5L2226.5 320.2L2221.5 312.8L2216.5 313.5L2201.5 315.2L2194.0 310.2L2186.5 314.0L2176.5 310.2L2171.5 313.5L2162.8 311.0L2156.5 306.5L2146.5 313.5L2141.5 314.5L2134.0 312.8L2124.0 321.5L2112.8 327.8L2116.5 339.0L2126.5 351.5L2141.5 361.5L2151.5 364.5L2157.8 361.5L2160.2 351.5L2162.8 339.0L2169.0 335.2L2176.5 341.5L2189.0 346.5L2204.0 354.0L2219.0 352.8L2231.5 345.2L2241.5 342.8L2249.0 349.0L2255.2 360.2L2249.0 367.8L2251.5 378.5L2266.5 371.5L2260.2 366.0L2269.0 362.8L2289.0 359.0L2311.5 358.5"/>
<path d="M2364.0 355.2L2394.0 381.5L2431.5 416.5L2463.0 454.0L2469.0 461.5"/>
<path d="M2424.0 96.5L2419.0 102.8L2410.2 114.0L2412.8 122.8L2406.5 126.5L2396.5 122.8L2386.5 112.8L2384.0 104.0L2375.2 102.8L2374.0 106.5L2379.0 114.0L2376.5 124.0L2365.2 136.5L2362.8 154.0L2349.0 152.8L2339.0 157.8L2331.5 150.2L2319.0 147.8L2317.8 140.2L2326.5 130.2L2321.5 123.5L2311.5 122.8L2302.8 130.2L2305.2 137.8L2287.8 152.8L2286.5 140.2L2289.0 129.0L2279.0 125.2L2266.5 129.0L2264.0 136.5L2266.5 149.0L2281.5 159.0L2280.2 174.0L2289.0 194.0L2287.8 206.5L2294.0 216.5L2305.2 229.0L2304.0 241.5L2299.0 250.2L2291.5 259.0L2301.5 271.5L2297.8 284.0L2289.0 296.5L2281.5 299.0L2264.0 307.8L2244.0 314.0"/>
<path d="M2419.0 130.2L2432.8 129.0L2429.0 137.8L2421.5 136.0Z"/>
<path d="M2406.5 149.0L2415.2 146.5L2416.5 152.8L2412.8 158.2L2407.8 155.2Z"/>
<path d="M2335.2 166.5L2338.5 164.0L2340.8 167.0L2337.8 169.8Z"/>
<path d="M2164.0 436.5L2176.5 435.2L2187.8 431.5L2196.5 421.5L2194.0 416.5L2176.5 413.5L2159.0 429.0L2141.5 444.0L2135.2 449.0"/>
<path d="M1636.8 525.8L1640.5 518.2L1648.0 513.2L1655.5 515.8L1663.0 528.2L1665.5 539.5L1658.0 547.0L1648.0 550.8L1639.2 545.8L1636.8 535.8Z"/>
<path d="M1965.5 462.0L1966.8 472.0L1971.8 484.5L1968.0 490.8L1963.0 492.0L1962.5 499.5L1973.0 509.5L1990.5 518.2L2008.0 529.5L2018.0 542.0L2015.5 554.5L2008.0 564.5L2009.2 572.0L2017.5 577.5L2013.0 584.5L1998.0 590.8L1978.0 599.5L1966.8 608.2L1973.0 617.0L1980.5 627.0L1973.0 639.5L1970.5 645.8L1975.5 648.2L1969.2 653.2L1958.0 657.0L1953.0 652.5L1963.0 652.0L1970.5 655.8L1988.0 658.2L1990.5 662.0L1985.5 668.2L1976.8 670.8L1963.0 668.2L1953.0 672.0L1958.0 679.5L1961.8 688.2L1973.0 695.8L1993.0 697.0L2013.0 692.0L2030.5 690.8L2058.0 686.5L2078.0 688.2L2092.0 692.0"/>
<path d="M1901.0 640.0L1910.5 634.5L1913.0 622.0L1921.8 621.5L1930.5 632.0L1935.5 640.0L1923.0 644.5L1908.0 644.0Z"/>
<path d="M1918.0 658.2L1928.0 651.5L1939.2 658.2L1934.2 664.0L1923.0 664.0Z"/>
<path d="M1890.5 655.8L1896.8 658.2L1894.2 669.5L1885.5 678.2L1876.8 679.5L1869.2 674.5L1868.5 665.8L1873.0 660.8Z"/>
<path d="M1989.2 633.5L1994.2 633.5"/>
<path d="M2092.0 692.0L2119.0 702.0L2144.0 712.0L2145.2 722.0L2139.0 727.0L2135.2 738.2L2151.5 743.2L2166.5 736.5L2172.8 739.5L2172.8 747.0L2155.2 757.0L2151.5 760.8L2144.0 758.2L2141.5 763.2L2146.5 767.5L2157.8 765.8L2167.8 755.8L2179.0 758.2L2180.2 767.0L2176.5 772.0L2184.0 787.0L2179.0 799.5L2170.2 812.0L2169.0 825.0"/>
<path d="M2147.0 720.8L2156.5 713.2L2165.2 714.5L2164.0 720.8L2152.8 724.5Z"/>
<path d="M2466.5 729.5L2463.0 729.0L2444.0 724.5L2431.5 720.0L2424.0 724.5L2410.2 726.5L2424.0 744.5L2434.0 758.2L2431.5 769.5L2414.0 777.0L2401.5 784.5L2386.5 794.5L2379.0 799.5L2364.0 805.8L2349.0 814.5L2359.0 819.5L2351.5 825.0"/>
<path d="M2376.0 815.8L2381.5 804.0L2394.0 806.5L2391.5 813.2L2382.8 817.0Z"/>
<path d="M2095.2 808.2L2095.2 814.5"/>
<path d="M1448.0 983.8L1478.0 975.0L1523.0 965.0L1555.5 955.0L1578.0 948.8L1610.5 948.8L1638.0 942.5L1663.0 940.0L1661.8 930.0L1659.2 926.2L1665.5 920.0L1688.0 915.0L1708.0 911.2L1728.0 905.5L1751.8 903.0L1756.8 892.5L1763.0 890.5L1778.0 887.5L1783.0 896.2L1795.5 898.8L1808.0 897.5L1820.5 892.5L1833.0 881.2L1845.5 871.2L1856.8 869.5L1854.2 878.8L1851.0 885.0L1860.5 881.2L1870.5 875.0L1876.8 877.5L1878.0 883.8L1888.0 883.0L1898.0 881.2L1896.8 897.5L1900.5 902.5L1901.0 908.8L1915.5 911.2L1935.5 910.0L1958.0 907.5L1960.5 905.0L1951.8 900.0L1953.0 895.0L1960.5 895.0L1975.5 905.0L1989.2 908.8L1991.8 925.0L1998.0 928.0L2010.5 925.5L2019.2 931.2L2014.2 942.5L2006.8 951.2L2020.5 956.2L2040.5 957.5L2055.5 956.2L2064.2 937.5L2070.5 936.2L2075.5 942.5L2085.5 943.8L2092.0 937.5"/>
<path d="M1723.0 994.5L1731.8 987.5L1741.8 989.5L1765.5 971.2L1773.0 974.5L1775.5 966.2L1771.8 957.5L1778.0 951.2L1793.0 948.8L1803.0 942.5L1815.5 938.8L1814.2 932.5L1823.0 932.0L1835.5 935.0L1845.5 927.5L1858.0 928.8L1860.0 933.0L1850.5 938.8L1835.5 941.2L1828.0 948.8L1818.0 953.8L1798.0 956.2L1804.2 961.2L1801.8 966.2L1790.5 972.5L1780.5 982.5L1773.0 995.0L1755.5 1000.0L1740.5 1010.0L1723.0 1012.0L1700.5 1015.0L1680.5 1022.5L1666.8 1031.2L1654.2 1033.0L1650.0 1025.0L1655.5 1017.5L1673.0 1011.2"/>
<path d="M1663.0 1075.0L1673.0 1067.5L1688.0 1065.0L1703.0 1066.2L1708.0 1069.5L1703.0 1075.0"/>
<path d="M1653.0 1081.2L1654.2 1086.2L1660.5 1085.0"/>
<path d="M1663.0 1092.0L1669.2 1090.0L1673.0 1093.8L1666.8 1095.5Z"/>
<path d="M1633.5 1081.2L1642.5 1080.5L1638.0 1083.8Z"/>
<path d="M1600.5 1038.8L1613.0 1031.2L1628.0 1021.2L1634.2 1026.2L1631.8 1033.0L1610.5 1038.8Z"/>
<path d="M1670.0 1042.5L1674.2 1038.8L1683.0 1042.5L1685.0 1051.2L1678.0 1052.0Z"/>
<path d="M1485.5 1188.0L1478.0 1182.5L1485.5 1180.0L1489.2 1157.5L1485.5 1145.0L1485.5 1132.5L1475.5 1115.0L1474.2 1100.0L1483.0 1080.0L1495.5 1062.5L1503.0 1042.5L1509.2 1025.0L1523.0 1013.8L1541.8 1005.0L1553.0 1010.0L1565.5 1020.0L1575.5 1027.5L1574.2 1032.5L1560.5 1042.5L1559.2 1050.0L1566.8 1053.8L1580.5 1048.8L1600.5 1047.5L1623.0 1043.0L1640.5 1044.5L1644.2 1051.2L1628.0 1057.5L1620.5 1071.2L1603.0 1077.5L1593.0 1087.5L1580.5 1095.0L1573.0 1112.5L1563.0 1125.0L1550.5 1128.8L1547.5 1136.2L1561.8 1150.0L1555.5 1162.5L1549.2 1175.0L1554.2 1178.8L1565.5 1171.2L1598.0 1162.5L1623.0 1156.2L1640.5 1156.2L1650.5 1165.0L1660.5 1175.0L1680.5 1188.0"/>
<path d="M1777.5 1026.2L1783.0 1018.8L1798.0 1018.8L1812.5 1025.8L1804.2 1034.5L1790.5 1028.8Z"/>
<path d="M1755.5 1070.0L1759.2 1063.8L1771.8 1069.5L1760.5 1071.2Z"/>
<path d="M1805.5 1056.2L1810.5 1055.5L1824.2 1062.5L1818.0 1076.2L1810.5 1072.5Z"/>
<path d="M1609.2 1112.5L1614.2 1105.0L1618.5 1106.2L1618.0 1113.0Z"/>
<path d="M1817.5 901.2L1825.5 895.5L1835.0 900.0L1828.0 908.8L1820.5 907.5Z"/>
<path d="M1895.5 927.0L1903.0 922.5L1915.0 927.0L1909.2 932.0L1899.2 931.2Z"/>
<path d="M1903.0 851.2L1915.5 851.2L1909.2 862.5Z"/>
<path d="M1970.0 861.2L1974.2 850.0L1985.5 850.0L1983.0 875.0L1977.5 878.8Z"/>
<path d="M1668.0 945.0L1676.8 945.0"/>
<path d="M1789.2 988.8L1793.0 988.8"/>
<path d="M1658.0 1157.0L1660.5 1157.0"/>
<path d="M2356.5 822.5L2351.5 837.5L2356.5 852.5L2361.5 870.0L2354.0 897.5L2342.8 907.5L2341.5 925.0L2346.5 945.0L2349.0 960.0L2354.0 980.0L2349.0 1000.0L2349.0 1015.0L2356.5 1037.5L2366.5 1057.5L2379.0 1075.0L2384.0 1090.0L2401.5 1107.5L2419.0 1127.5L2425.2 1137.5L2434.0 1135.0L2439.0 1140.5L2454.0 1142.5L2463.0 1152.5L2466.5 1157.5"/>
<path d="M2159.0 832.5L2174.0 837.5L2197.8 857.5L2189.0 870.0L2186.5 877.5L2176.5 885.0L2170.2 883.0L2164.0 895.0L2151.5 893.8L2144.0 896.2L2149.0 906.2L2144.0 911.2L2129.0 908.8L2117.8 913.8L2121.5 920.0L2094.0 936.2L2087.8 943.8L2081.5 943.8L2075.2 940.5L2070.2 937.0L2065.2 937.5L2055.2 956.2L2044.0 958.8L2016.5 956.2L2006.5 951.2L2019.0 933.8L2015.2 927.5L2004.0 926.2L1991.5 927.5L1990.2 912.5L1979.0 907.5L1964.0 900.0L1954.0 895.0L1951.5 900.0L1960.2 906.2L1944.0 910.0L1919.0 911.2L1900.2 907.5L1896.5 892.5L1899.0 883.8"/>
<path d="M2095.2 845.0L2100.2 827.5L2109.0 825.0L2116.5 831.2L2132.8 826.2L2129.0 843.8L2101.5 853.0Z"/>
<path d="M2159.0 832.5L2166.5 825.0L2169.0 822.5"/>
<path d="M2072.8 833.8L2079.0 832.0L2080.2 834.5L2076.5 836.2Z"/>
<path d="M2082.8 838.8L2090.2 839.5"/>
<path d="M1680.5 1188.0L1685.5 1196.0L1700.5 1211.0L1713.0 1226.0L1730.5 1241.0L1748.0 1251.0L1773.0 1264.8L1798.0 1273.5L1819.0 1277.2"/>
<path d="M1819.0 1277.2L1834.0 1279.8L1846.5 1282.2L1852.8 1287.2L1845.2 1293.5L1845.2 1299.8L1839.0 1307.2L1829.0 1313.5L1824.5 1321.0L1826.5 1331.0L1834.0 1337.2L1846.5 1337.2L1859.0 1338.0L1865.2 1331.0L1872.8 1329.0L1885.2 1336.0L1889.0 1348.5L1899.0 1354.8L1914.0 1358.5L1929.0 1357.2L1949.0 1359.8L1974.0 1367.2L1994.0 1372.2L2016.5 1369.8L2021.5 1366.0L2039.0 1366.0L2059.0 1358.5L2079.0 1349.8L2101.5 1339.8L2121.5 1326.0L2144.0 1314.8L2166.5 1298.5L2181.5 1294.8L2189.0 1288.5L2209.0 1279.8L2231.5 1263.5L2264.0 1248.5L2276.5 1246.0L2294.0 1236.0"/>
<path d="M2345.2 1220.5L2376.5 1212.2L2381.5 1213.5L2389.0 1207.2L2404.0 1199.8L2414.0 1188.5L2422.8 1178.5L2424.0 1166.0L2431.5 1156.0L2444.0 1161.0L2456.5 1163.5L2461.5 1156.0L2454.0 1143.5L2439.0 1141.0L2431.5 1136.0L2425.2 1138.5L2422.8 1131.0L2401.5 1113.5L2386.5 1096.0L2379.0 1073.5L2366.5 1056.0L2357.8 1036.0"/>
<path d="M1485.5 1187.9L1486.6 1193.9L1475.9 1197.2L1461.0 1211.2L1442.8 1226.1L1429.6 1244.3L1418.0 1259.2L1411.4 1269.1L1402.8 1280.7L1409.8 1285.3L1424.6 1289.3L1437.9 1293.9L1447.8 1298.0L1461.0 1300.5L1468.4 1305.5L1472.6 1312.1L1480.0 1312.9L1484.1 1318.7L1479.2 1326.1L1472.6 1331.1L1472.6 1337.7L1462.6 1343.5L1454.4 1344.3L1444.5 1350.1L1436.2 1351.4L1429.6 1357.5L1423.0 1353.1L1418.0 1353.4L1411.4 1360.0L1398.2 1366.3L1385.0 1369.6L1373.4 1375.7L1366.8 1376.5L1360.2 1381.5L1356.9 1387.3L1348.6 1388.1L1338.7 1394.7L1333.7 1400.0"/>
<path d="M1501.8 1286.0L1505.5 1271.0L1510.5 1267.2L1523.0 1272.2L1526.8 1279.8L1524.2 1301.0L1519.2 1306.0L1521.8 1312.2L1510.5 1319.8L1500.5 1312.2L1503.0 1303.5Z"/>
</g>
<g font-family="&quot;Liberation Sans&quot;,&quot;DejaVu Sans&quot;,sans-serif" font-size="15" fill="#808080" text-anchor="middle">
<text transform="translate(574,123) rotate(-20)" y="5.4">1000</text>
<text transform="translate(576.5,197) rotate(-14)" y="5.4">1004</text>
<text transform="translate(589,277.5) rotate(-7)" y="5.4">1008</text>
<text transform="translate(302.5,378) rotate(8)" y="5.4">1012</text>
<text transform="translate(1042.5,334) rotate(-30)" y="5.4">1016</text>
<text transform="translate(1253.4,347.3) rotate(-30)" y="5.4">1020</text>
<text transform="translate(968.6,633.4) rotate(-20)" y="5.4">1024</text>
<text transform="translate(1132,1301.5) rotate(-35)" y="5.4">1020</text>
<text transform="translate(1715,400.3) rotate(-25)" y="5.4">1024</text>
<text transform="translate(2339,355.2) rotate(-3)" y="5.4">1016</text>
<text transform="translate(2141,453) rotate(-40)" y="5.4">1016</text>
<text transform="translate(1697.4,999.2) rotate(-15)" y="5.4">1020</text>
<text transform="translate(1681.1,1081.7) rotate(-15)" y="5.4">1020</text>
<text transform="translate(2318.5,1226.2) rotate(-17)" y="5.4">1016</text>
</g>
<g fill="none" stroke="#0000ff" stroke-width="3.9" stroke-linejoin="round" stroke-linecap="butt">
<path d="M395.1 96.8L392.9 99.0L374.3 115.8L359.4 126.9"/>
<path d="M307.2 154.5L301.6 155.3L292.3 154.3L296.0 150.2L303.5 142.8L314.6 135.3L325.8 126.9L338.9 115.8L354.7 99.0L356.6 96.8"/>
<path d="M519.6 96.8L521.5 99.0L526.1 103.7L527.1 111.1L522.4 116.7L523.3 122.3L525.2 128.8L518.7 134.4L514.0 137.2L511.2 141.9L519.6 144.6L523.3 147.8L514.0 153.0L508.4 156.8L499.1 157.7L487.9 162.4L476.8 168.9L461.8 171.7L450.7 173.5L445.1 172.6L435.8 177.3L428.3 180.1L420.9 184.7L414.3 186.9L409.7 191.2"/>
<path d="M378.0 211.7L370.5 218.2L367.8 222.9L358.4 230.4L353.8 236.9L343.5 249.0L334.2 259.2L323.0 263.9L317.4 269.5L310.9 275.1L305.3 278.8L294.2 284.4L283.0 290.9L277.4 295.6L275.5 299.3L264.3 304.9L256.9 309.5L247.6 313.3L234.5 316.1L222.4 315.7L215.9 311.4L210.3 308.6L196.3 309.5L189.8 316.1L184.2 319.8L183.7 322.6L189.8 324.8L199.1 324.1L212.2 322.6L227.1 324.5L240.1 323.5L245.7 329.1L238.3 332.8L230.8 338.4L221.5 343.1L210.3 345.9L206.6 349.6L207.0 355.2L210.3 358.0L221.5 357.1L240.1 355.2L245.7 358.0L251.3 364.5L255.0 367.3L264.3 369.0"/>
<path d="M236.8 356.9L243.5 356.9L250.2 362.7L255.2 366.9L265.2 368.5L278.5 368.9L285.2 371.1L285.2 380.2L293.6 387.7L304.4 397.3L296.9 404.4L289.4 405.3L283.5 413.6L278.5 421.1L273.5 429.5L268.5 437.8L260.2 447.0L250.2 453.7L236.8 462.0L226.8 466.2L215.1 471.2L201.7 477.1L191.7 481.7"/>
<path d="M191.8 480.0L178.8 485.8L172.5 482.0L173.8 469.5L175.0 464.5L165.0 464.0L157.5 465.0"/>
<path d="M157.5 518.5L170.0 522.0L157.5 528.0"/>
<path d="M360.3 247.1L365.0 244.3L372.4 247.1L374.3 254.6L372.4 261.1L365.9 263.0L359.4 260.7L359.0 253.6Z"/>
<path d="M395.1 253.3L397.6 250.9L404.1 254.0L397.6 255.9Z"/>
<path d="M311.9 372.7L335.3 368.9L335.0 372.7L320.3 381.1L315.3 381.1L311.9 378.6Z"/>
<path d="M335.3 366.4L346.1 366.9"/>
<path d="M276.9 396.9L285.2 396.6L287.2 404.4L276.9 404.4Z"/>
<path d="M200.9 453.4L205.1 447.8L216.8 441.2L226.8 438.3L235.1 437.8L236.0 441.2L226.8 447.0L218.4 450.7L208.4 454.5Z"/>
<path d="M563.4 96.8L564.0 102.4"/>
</g>
<g font-family="&quot;Liberation Sans&quot;,&quot;DejaVu Sans&quot;,sans-serif" font-size="22" fill="#0000ff" text-anchor="middle">
<text transform="translate(334,141.5) rotate(-33)" y="8">0 °C</text>
<text transform="translate(402,197.4) rotate(-33)" y="8">0 °C</text>
</g>
<g fill="none" stroke="#000" stroke-width="1.95" stroke-linejoin="round" stroke-linecap="round">
<path d="M1860.0 251.6L1838.1 247.8L1820.7 243.7L1799.6 242.2L1787.2 238.9L1773.5 242.0L1763.6 241.2L1748.7 242.9L1733.8 242.2L1721.4 242.5L1712.0 244.7L1700.2 242.2L1692.8 237.0L1684.1 232.9L1678.5 233.8L1672.3 231.1L1663.0 235.0L1653.0 236.0L1644.3 240.0L1636.9 243.5L1635.7 246.0L1638.1 249.1L1638.1 251.9L1627.0 254.7L1619.5 257.8L1612.0 259.4L1599.6 258.1L1589.7 264.0L1581.0 267.7L1578.5 271.4L1576.6 277.0L1577.3 280.7L1581.0 285.1L1586.6 288.8L1592.2 291.3L1596.5 291.9L1592.2 297.5L1589.1 301.2L1589.7 304.3L1592.2 304.6L1603.4 301.6L1604.0 308.1L1604.0 311.8L1608.3 315.5L1603.4 319.9L1603.4 323.0L1610.8 323.9L1604.6 329.2L1598.4 335.4L1599.0 344.7L1602.1 345.3L1599.0 350.9L1598.4 355.3L1600.9 359.0L1607.1 360.0L1603.4 362.7L1604.6 371.4L1607.1 380.0"/>
<path d="M1602.1 345.3L1609.6 340.4L1617.0 336.6L1627.0 334.8L1636.9 332.7L1640.4 332.9L1643.1 337.3L1646.2 340.1L1640.0 347.2L1643.1 352.2L1646.8 353.0L1658.0 348.4L1659.3 349.1L1672.3 347.8L1680.4 350.9L1689.1 351.8L1697.8 349.7L1702.7 347.8L1704.6 343.5L1707.1 342.9L1713.9 344.7L1723.9 345.1L1726.3 343.5L1735.0 345.1L1740.0 344.7L1743.7 349.1L1744.3 360.2L1746.2 362.1L1754.9 362.1L1762.4 366.5L1764.8 370.2L1758.6 376.4L1753.7 380.0"/>
<path d="M1840.0 248.4L1853.4 250.9L1868.4 252.9L1883.4 252.6L1898.4 250.1L1909.3 247.2L1916.8 248.9L1927.6 246.2L1931.8 247.2L1938.5 250.9L1950.2 253.4L1961.9 255.9L1968.5 251.3L1973.6 250.6L1986.9 252.9L1996.9 256.3L2006.9 258.9L2015.3 258.9L2027.0 257.3L2038.7 253.9L2049.5 251.8L2055.4 247.6L2059.5 243.4L2063.7 230.9L2067.9 215.9L2071.2 199.2L2073.7 182.5L2077.1 177.5L2084.6 174.1L2080.4 169.1L2073.7 175.5L2075.4 162.4L2077.9 142.4L2080.4 131.6L2084.6 121.5L2093.8 126.5L2100.4 131.6L2105.4 139.1L2108.8 148.2L2113.8 152.4L2117.1 154.9L2111.3 148.2L2107.1 134.9L2103.8 125.7L2097.1 120.7L2087.1 115.7L2077.9 111.5L2076.7 106.5L2087.6 108.2L2083.7 98.2"/>
<path d="M2072.1 98.2L2076.2 103.7L2080.4 100.3L2081.2 98.2"/>
<path d="M2038.7 254.3L2040.3 257.6L2045.3 260.1L2055.4 261.8L2062.9 263.4L2063.7 267.6L2059.5 274.3L2062.0 276.8L2066.2 276.8L2070.1 272.6L2071.2 275.1L2082.1 279.0L2093.8 282.3L2103.8 282.6L2115.5 291.8L2123.8 291.0L2131.3 289.3L2138.8 292.7L2148.0 298.0L2157.2 296.8L2163.0 296.0L2172.2 298.0L2191.4 298.0L2192.3 291.0L2194.8 288.5L2207.3 291.3L2222.3 296.0L2232.3 297.7L2238.2 301.8L2240.7 306.8L2241.5 313.5L2249.0 311.9L2259.0 307.7L2258.2 303.5L2247.3 301.3L2240.7 305.2"/>
<path d="M2140.5 293.3L2143.0 294.5L2148.0 298.0L2155.4 297.0L2163.5 295.8L2167.8 297.6L2177.8 298.3L2190.8 298.0L2192.1 290.8L2194.6 288.6L2205.1 290.6L2217.5 293.9L2227.5 296.8L2232.4 297.0L2236.8 299.5L2239.9 303.2"/>
<path d="M2240.5 303.0L2241.1 313.2L2246.1 313.4L2252.3 311.3L2258.5 308.2L2259.8 305.7L2257.3 303.5L2252.3 302.2L2244.9 301.4Z"/>
<path d="M2258.5 308.4L2267.2 311.9L2272.2 315.0L2274.7 318.1L2277.8 319.1L2288.3 315.4L2299.5 317.5L2310.7 319.6L2316.3 319.8L2318.2 316.3L2326.9 314.4L2336.2 311.9L2344.2 312.9L2351.7 313.8"/>
<path d="M2466.0 252.5L2458.5 252.5L2453.6 254.2L2451.1 253.5L2449.8 254.8L2443.6 256.0L2434.9 254.2L2422.5 251.1L2411.3 248.0L2406.4 243.6L2403.2 242.1L2394.6 243.9L2386.5 250.4L2376.5 255.4L2364.1 261.6L2354.2 267.2L2346.7 275.9L2341.1 284.6L2341.8 294.5L2344.2 304.5L2349.2 309.4L2351.7 313.8L2353.6 318.1L2356.7 320.0L2357.3 323.1L2352.9 325.0L2348.6 325.6L2348.0 330.6L2349.8 333.0L2352.9 334.3L2353.6 339.3L2353.6 344.2L2348.0 349.2L2336.8 356.6L2321.9 364.1L2307.0 370.3L2295.8 374.7L2289.6 379.6L2282.1 385.2L2267.2 388.3L2249.8 392.0L2236.2 395.2L2223.7 398.3L2216.3 400.0"/>
<path d="M2216.5 399.0L2196.5 413.5L2206.5 420.2L2194.0 426.5L2186.5 431.5L2176.5 444.0L2156.5 462.0"/>
<path d="M2156.5 462.0L2144.0 477.0L2131.5 494.5L2131.0 502.0L2137.8 522.0L2144.0 529.5L2154.0 535.8L2165.2 542.0L2161.5 545.8L2144.0 555.8L2129.0 563.2L2119.0 570.8L2117.8 577.0L2111.5 580.8L2109.0 592.0L2104.0 600.8L2100.2 605.8L2106.5 613.2L2099.0 616.5L2069.0 617.5L2049.0 627.5L2039.0 637.0L2031.5 654.5L2019.0 667.0L2015.2 668.2L2007.8 663.2L1994.0 663.2L1976.5 669.5L1966.5 668.2L1949.0 667.5L1937.8 670.8L1914.0 667.5L1876.5 670.0L1861.5 683.2L1844.0 683.8L1828.5 689.0"/>
<path d="M1598.0 462.0L1591.8 474.5L1584.2 489.5L1578.0 499.5L1568.0 507.0L1569.2 512.0L1565.5 522.0L1564.2 532.0L1561.8 539.5L1561.0 544.5L1568.0 546.5L1583.0 544.5L1588.0 537.0L1593.0 529.5L1604.2 523.2L1595.5 527.0L1590.5 533.2L1591.8 539.5L1584.2 545.8L1576.8 549.0L1578.0 555.8L1579.2 562.0L1595.5 558.2L1604.2 557.5L1611.8 564.0L1599.2 563.2L1604.2 572.0L1602.5 582.0L1599.2 592.0L1604.2 602.0L1604.2 617.0L1601.8 627.0L1598.0 637.0L1593.0 648.2L1595.5 650.8L1600.5 648.2L1610.5 647.0L1616.8 645.0L1633.0 646.5L1645.5 647.5L1658.0 652.0L1664.2 651.5L1675.5 646.5L1685.5 642.0L1690.0 640.2L1698.0 640.0L1710.5 639.0L1719.2 640.0L1724.2 635.0L1723.0 640.0L1735.5 647.0L1748.0 654.5L1754.2 662.0L1759.2 658.2L1765.0 658.2L1756.8 662.0L1753.0 668.2L1754.2 673.2L1760.5 677.0L1763.0 684.5L1768.0 692.0L1775.5 702.0L1783.0 704.0L1793.0 709.5L1801.8 712.0L1810.5 710.0L1813.0 705.8L1817.5 704.5L1818.0 700.8L1821.8 694.5L1828.5 689.0"/>
<path d="M1723.0 462.0L1720.5 469.5L1716.8 477.0L1710.5 484.5L1683.0 486.5L1688.0 493.2L1695.5 498.2L1698.0 507.0L1705.5 519.5L1714.2 522.0L1716.8 527.0L1713.0 534.5L1700.5 542.0L1696.8 552.0L1694.2 562.0L1708.0 578.2L1718.5 578.2L1715.5 585.8L1705.5 589.5L1698.0 597.0L1688.0 607.0L1684.2 615.8L1686.8 627.0L1690.0 640.2"/>
<path d="M1735.5 825.0L1755.5 792.0L1765.5 769.5L1773.0 749.5L1783.0 727.5L1798.0 725.0L1808.0 722.0L1815.5 719.0L1823.0 720.8L1819.2 724.5L1819.2 732.0L1825.5 739.5L1838.0 749.5L1853.0 759.5L1868.0 764.5L1883.0 766.5L1898.0 762.5L1918.0 760.8L1921.8 759.0L1928.0 762.0L1940.5 763.2L1953.0 760.8L1963.0 754.5L1966.8 750.8L1969.2 758.2L1974.2 769.0L1988.0 769.5L2013.0 770.8L2033.0 771.5L2048.0 767.0L2063.0 759.5L2073.0 755.8L2083.0 747.0L2092.0 742.0"/>
<path d="M2013.0 770.8L2016.8 777.0L2028.0 784.5L2040.5 793.2L2036.8 802.0L2044.2 810.8L2041.8 817.0L2045.5 825.0"/>
<path d="M1607.0 380.0L1608.0 389.0L1611.8 399.0L1612.5 411.5L1610.5 424.0L1604.2 434.0L1601.8 449.0L1598.0 462.0"/>
<path d="M1764.8 370.0L1755.5 375.2L1740.5 382.8L1728.0 392.8L1720.5 402.8L1725.5 414.0L1726.8 426.5L1725.5 440.2L1728.0 445.2L1714.2 454.0L1722.5 462.0"/>
<path d="M2092.0 742.0L2101.5 732.0L2124.0 723.2L2140.2 726.2L2150.2 725.0L2155.2 720.8L2160.2 712.0L2169.0 705.8L2184.0 698.2L2209.0 688.2L2231.5 682.0L2269.0 679.0L2297.8 676.2L2314.0 676.5L2336.5 665.8L2371.5 665.0L2386.5 659.0L2446.5 659.0L2466.5 664.5"/>
<path d="M2299.0 491.5L2309.0 485.8L2329.0 474.5L2341.5 469.5L2350.2 467.5L2349.0 473.2L2352.8 474.5L2351.5 479.5L2360.2 479.0L2367.8 483.2L2365.2 490.8L2356.5 503.2L2344.0 509.5L2329.0 504.5L2322.8 502.0L2320.2 495.8L2312.8 494.0L2307.8 498.2L2302.8 495.8Z"/>
<path d="M2229.0 529.5L2235.2 523.2L2249.0 520.2L2253.2 524.5L2249.0 530.8L2241.5 537.0L2231.5 535.8L2227.8 533.2Z"/>
<path d="M2239.0 548.2L2241.5 542.5L2245.2 545.8L2251.5 547.0L2251.0 549.5L2244.0 549.0Z"/>
<path d="M2390.0 463.0L2405.0 460.0L2417.5 466.5L2421.0 474.0L2415.0 476.5L2400.0 470.0L2391.0 468.0Z"/>
<path d="M1611.0 1171.0L1611.0 1337.2L1404.0 1337.2L1404.0 1406.0"/>
<path d="M1611.0 1257.2L1850.5 1399.0L1858.0 1403.5"/>
<path d="M1735.5 825.0L1723.0 841.2L1698.0 853.8L1673.0 863.8L1648.0 872.5L1623.0 885.0L1600.5 905.0L1576.8 927.5L1574.2 945.0L1568.0 960.0L1550.5 980.0L1541.8 1000.0L1539.2 1022.5L1538.8 1036.0"/>
<path d="M2045.2 825.0L2046.5 840.0L2045.2 852.5L2050.2 867.5L2047.0 882.5L2055.2 897.5L2060.2 910.0L2072.8 922.5L2084.0 930.0L2085.2 935.0L2074.0 942.5L2072.8 950.0L2075.2 957.5L2056.5 958.0L2024.0 956.2L1997.8 955.0L1971.5 960.0L1966.5 970.0L1964.0 973.8L1936.5 981.2L1921.5 983.0L1912.8 986.2L1911.5 992.5L1915.2 1002.5L1912.8 1012.5L1924.0 1018.8L1926.5 1025.0L1920.2 1030.0L1904.0 1031.2L1890.2 1039.5L1871.5 1047.5L1842.8 1058.8L1830.2 1075.0L1819.0 1086.2"/>
<path d="M1819.0 1086.2L1813.0 1090.0L1783.0 1097.5L1746.8 1100.0L1746.2 1107.5L1739.2 1115.0L1708.0 1110.8L1698.0 1116.2L1688.0 1122.5L1675.5 1126.2L1663.0 1135.0L1648.0 1144.0L1633.0 1153.0L1620.5 1161.0L1613.0 1166.0L1611.0 1171.0"/>
<path d="M1031.1 1165.5L1035.0 1160.3L1044.3 1160.0L1048.3 1165.5L1046.5 1170.8L1046.9 1176.1L1041.0 1182.5L1039.4 1178.8L1035.7 1172.2Z"/>
<path d="M1073.4 1205.2L1078.0 1199.9L1083.3 1201.2L1087.5 1205.9L1080.0 1212.1L1076.0 1209.8Z"/>
<path d="M1021.2 1227.4L1028.4 1227.0L1035.7 1222.1L1038.3 1224.4L1032.4 1235.0L1026.4 1231.7Z"/>
<path d="M1099.4 1190.9L1103.1 1189.1L1109.1 1189.7L1121.7 1187.4L1136.2 1177.7L1148.4 1176.8L1148.8 1179.4L1136.2 1188.0L1133.6 1193.3L1130.3 1202.6L1123.6 1209.2L1119.0 1211.6L1114.4 1212.5L1107.1 1203.9L1103.8 1197.3Z"/>
<path d="M1167.7 1213.1L1173.2 1207.9L1175.9 1202.8L1190.4 1204.2L1193.1 1202.6L1194.1 1210.5L1193.7 1219.8L1189.1 1225.0L1182.5 1228.0L1175.9 1227.0L1170.6 1222.1L1167.7 1217.1Z"/>
<path d="M1249.3 1206.3L1259.2 1209.2L1268.4 1201.9L1284.3 1196.6L1288.9 1186.7L1290.9 1176.1L1290.3 1168.2L1285.6 1166.2L1281.0 1168.2L1279.0 1174.8L1271.1 1186.7L1265.8 1198.6L1259.2 1203.2Z"/>
<path d="M1288.9 1158.9L1290.9 1149.7L1296.2 1146.4L1309.4 1141.7L1313.4 1135.8L1315.8 1137.8L1312.7 1151.0L1308.1 1152.6L1297.5 1156.3L1293.6 1160.3Z"/>
<path d="M204.5 498.8L208.8 495.5L213.2 497.5L213.8 502.5L210.0 506.2L205.0 504.2Z"/>
<path d="M356.8 553.0L363.8 550.5L370.5 553.2L369.5 557.0L362.5 558.0Z"/>
<path d="M375.5 558.0L381.2 555.5L392.5 558.8L405.0 564.5L395.0 566.2L380.5 565.0L376.2 562.0Z"/>
<path d="M390.0 543.8L406.2 549.5L422.5 555.5L420.0 556.8L400.0 551.2Z"/>
<path d="M447.0 542.0L452.5 540.0L463.8 541.2L468.8 545.0L467.0 550.5L456.2 550.0L448.8 547.0Z"/>
<path d="M542.5 598.0L546.2 595.5L555.0 600.0L570.0 600.5L583.8 599.5L584.2 603.8L580.0 607.0L568.8 608.2L555.0 606.2L546.2 602.5Z"/>
<path d="M583.2 653.0L587.5 650.8L593.2 652.5L594.2 656.2L586.2 656.2Z"/>
<path d="M1478.1 1160.0L1461.7 1168.2L1450.2 1178.1L1440.3 1188.8L1430.4 1193.7L1405.7 1203.6L1377.7 1211.0L1354.7 1214.0L1345.7 1217.6L1339.9 1226.7L1331.7 1234.1L1326.7 1248.9L1316.9 1265.3L1311.9 1281.8L1307.8 1290.0L1297.1 1298.2L1283.9 1305.7L1269.9 1310.6L1260.9 1318.0L1254.3 1321.3L1251.0 1327.9L1248.6 1341.0L1242.8 1350.9L1236.2 1367.4L1230.4 1377.2L1227.6 1387.1L1227.2 1403.6"/>
<path d="M1382.4 1403.6L1383.5 1399.0L1389.3 1377.2L1394.2 1359.1L1399.1 1346.0L1400.0 1339.4L1403.3 1335.3L1412.3 1332.8L1421.4 1331.5L1424.7 1322.9L1430.4 1313.1L1438.6 1303.2L1446.9 1296.9L1447.7 1290.0L1444.4 1287.6L1442.3 1282.1L1455.1 1278.8L1471.6 1273.9L1481.4 1273.2L1494.6 1275.5L1504.5 1279.8L1514.4 1283.4L1522.6 1281.8L1526.7 1279.8L1535.7 1283.8L1545.6 1283.1L1555.5 1276.0L1565.4 1269.4L1578.5 1268.6L1595.0 1269.0L1604.9 1267.0L1607.3 1263.7L1605.2 1257.1L1604.0 1252.2L1605.7 1245.6L1604.0 1240.6L1602.4 1234.9L1611.1 1234.4"/>
<path d="M1539.2 1036.0L1536.8 1043.5L1544.2 1051.0L1550.5 1061.0L1551.8 1068.5L1550.0 1081.0L1544.2 1093.5L1530.5 1108.5L1515.5 1128.5L1498.0 1146.0L1480.5 1158.5L1478.0 1160.2"/>
<path d="M1081.5 909.5L1090.1 913.2L1097.9 911.0L1107.5 915.6L1112.8 916.5L1103.9 923.3L1092.1 922.3L1082.4 918.7L1078.8 915.3L1078.3 913.4Z"/>
</g>
<g stroke="#b0b0b0" stroke-width="1.7" fill="none">
<path d="M732.9 98.9V1398.7"/>
<path d="M1311.7 98.9V1398.7"/>
<path d="M1890.6 98.9V1398.7"/>
<path d="M160.3 422.3H2463.2"/>
<path d="M160.3 751.9H2463.2"/>
<path d="M160.3 1075.3H2463.2"/>
</g>
</g>
<rect x="160.3" y="98.9" width="2302.8999999999996" height="1299.8" fill="none" stroke="#000" stroke-width="1.7"/>
<g stroke="#000" stroke-width="1.7">
<path d="M160.3 1398.7v7.3"/>
<path d="M732.9 1398.7v7.3"/>
<path d="M1311.7 1398.7v7.3"/>
<path d="M1890.6 1398.7v7.3"/>
<path d="M2463.2 1398.7v7.3"/>
<path d="M160.3 98.9h-7.3"/>
<path d="M160.3 422.3h-7.3"/>
<path d="M160.3 751.9h-7.3"/>
<path d="M160.3 1075.3h-7.3"/>
<path d="M160.3 1398.7h-7.3"/>
</g>
<g font-family="&quot;Liberation Sans&quot;,&quot;DejaVu Sans&quot;,sans-serif" font-size="37.5" fill="#000" text-anchor="middle">
<text x="160.7" y="1442.4">32°W</text>
<text x="733.3" y="1442.4">22.8°W</text>
<text x="1312.1" y="1442.4">13.5°W</text>
<text x="1891" y="1442.4">4.2°W</text>
<text x="2463.6" y="1442.4">5°E</text>
</g>
<g font-family="&quot;Liberation Sans&quot;,&quot;DejaVu Sans&quot;,sans-serif" font-size="37.5" fill="#000" text-anchor="end">
<text x="141.6" y="113.07">45.9°N</text>
<text x="141.6" y="436.46">40.7°N</text>
<text x="141.6" y="766.08">35.4°N</text>
<text x="141.6" y="1089.47">30.2°N</text>
<text x="141.6" y="1412.87">25°N</text>
</g>
<rect x="2466.0" y="1352.21" width="32.0" height="48.89" fill="#006837"/>
<rect x="2466.0" y="1303.91" width="32.0" height="48.89" fill="#05713c"/>
<rect x="2466.0" y="1255.62" width="32.0" height="48.89" fill="#0f8446"/>
<rect x="2466.0" y="1207.33" width="32.0" height="48.89" fill="#199750"/>
<rect x="2466.0" y="1159.04" width="32.0" height="48.89" fill="#36a657"/>
<rect x="2466.0" y="1110.74" width="32.0" height="48.89" fill="#57b65f"/>
<rect x="2466.0" y="1062.45" width="32.0" height="48.89" fill="#73c264"/>
<rect x="2466.0" y="1014.16" width="32.0" height="48.89" fill="#8ccd67"/>
<rect x="2466.0" y="965.87" width="32.0" height="48.89" fill="#a5d86a"/>
<rect x="2466.0" y="917.57" width="32.0" height="48.89" fill="#bbe278"/>
<rect x="2466.0" y="869.28" width="32.0" height="48.89" fill="#cfeb85"/>
<rect x="2466.0" y="820.99" width="32.0" height="48.89" fill="#e0f295"/>
<rect x="2466.0" y="772.70" width="32.0" height="48.89" fill="#eff8aa"/>
<rect x="2466.0" y="724.40" width="32.0" height="48.89" fill="#fffebe"/>
<rect x="2466.0" y="676.11" width="32.0" height="48.89" fill="#fff2aa"/>
<rect x="2466.0" y="627.82" width="32.0" height="48.89" fill="#fee695"/>
<rect x="2466.0" y="579.53" width="32.0" height="48.89" fill="#fed683"/>
<rect x="2466.0" y="531.23" width="32.0" height="48.89" fill="#fdc372"/>
<rect x="2466.0" y="482.94" width="32.0" height="48.89" fill="#fdad60"/>
<rect x="2466.0" y="434.65" width="32.0" height="48.89" fill="#f99355"/>
<rect x="2466.0" y="386.36" width="32.0" height="48.89" fill="#f67a49"/>
<rect x="2466.0" y="338.06" width="32.0" height="48.89" fill="#ee613e"/>
<rect x="2466.0" y="289.77" width="32.0" height="48.89" fill="#e24731"/>
<rect x="2466.0" y="241.48" width="32.0" height="48.89" fill="#d62f27"/>
<rect x="2466.0" y="193.19" width="32.0" height="48.89" fill="#c21c27"/>
<rect x="2466.0" y="144.89" width="32.0" height="48.89" fill="#af0926"/>
<rect x="2466.0" y="96.60" width="32.0" height="48.89" fill="#a50026"/>
<g stroke="#000">
<path d="M2466.0 1352.51H2498.0" stroke-width="1.1"/><path d="M2498.0 1352.51h7" stroke-width="1.7"/>
<path d="M2466.0 1304.21H2498.0" stroke-width="1.1"/><path d="M2498.0 1304.21h7" stroke-width="1.7"/>
<path d="M2466.0 1255.92H2498.0" stroke-width="1.1"/><path d="M2498.0 1255.92h7" stroke-width="1.7"/>
<path d="M2466.0 1207.63H2498.0" stroke-width="1.1"/><path d="M2498.0 1207.63h7" stroke-width="1.7"/>
<path d="M2466.0 1159.34H2498.0" stroke-width="1.1"/><path d="M2498.0 1159.34h7" stroke-width="1.7"/>
<path d="M2466.0 1111.04H2498.0" stroke-width="1.1"/><path d="M2498.0 1111.04h7" stroke-width="1.7"/>
<path d="M2466.0 1062.75H2498.0" stroke-width="1.1"/><path d="M2498.0 1062.75h7" stroke-width="1.7"/>
<path d="M2466.0 1014.46H2498.0" stroke-width="1.1"/><path d="M2498.0 1014.46h7" stroke-width="1.7"/>
<path d="M2466.0 966.17H2498.0" stroke-width="1.1"/><path d="M2498.0 966.17h7" stroke-width="1.7"/>
<path d="M2466.0 917.87H2498.0" stroke-width="1.1"/><path d="M2498.0 917.87h7" stroke-width="1.7"/>
<path d="M2466.0 869.58H2498.0" stroke-width="1.1"/><path d="M2498.0 869.58h7" stroke-width="1.7"/>
<path d="M2466.0 821.29H2498.0" stroke-width="1.1"/><path d="M2498.0 821.29h7" stroke-width="1.7"/>
<path d="M2466.0 773.00H2498.0" stroke-width="1.1"/><path d="M2498.0 773.00h7" stroke-width="1.7"/>
<path d="M2466.0 724.70H2498.0" stroke-width="1.1"/><path d="M2498.0 724.70h7" stroke-width="1.7"/>
<path d="M2466.0 676.41H2498.0" stroke-width="1.1"/><path d="M2498.0 676.41h7" stroke-width="1.7"/>
<path d="M2466.0 628.12H2498.0" stroke-width="1.1"/><path d="M2498.0 628.12h7" stroke-width="1.7"/>
<path d="M2466.0 579.83H2498.0" stroke-width="1.1"/><path d="M2498.0 579.83h7" stroke-width="1.7"/>
<path d="M2466.0 531.53H2498.0" stroke-width="1.1"/><path d="M2498.0 531.53h7" stroke-width="1.7"/>
<path d="M2466.0 483.24H2498.0" stroke-width="1.1"/><path d="M2498.0 483.24h7" stroke-width="1.7"/>
<path d="M2466.0 434.95H2498.0" stroke-width="1.1"/><path d="M2498.0 434.95h7" stroke-width="1.7"/>
<path d="M2466.0 386.66H2498.0" stroke-width="1.1"/><path d="M2498.0 386.66h7" stroke-width="1.7"/>
<path d="M2466.0 338.36H2498.0" stroke-width="1.1"/><path d="M2498.0 338.36h7" stroke-width="1.7"/>
<path d="M2466.0 290.07H2498.0" stroke-width="1.1"/><path d="M2498.0 290.07h7" stroke-width="1.7"/>
<path d="M2466.0 241.78H2498.0" stroke-width="1.1"/><path d="M2498.0 241.78h7" stroke-width="1.7"/>
<path d="M2466.0 193.49H2498.0" stroke-width="1.1"/><path d="M2498.0 193.49h7" stroke-width="1.7"/>
<path d="M2466.0 145.19H2498.0" stroke-width="1.1"/><path d="M2498.0 145.19h7" stroke-width="1.7"/>
</g>
<g font-family="&quot;Liberation Sans&quot;,&quot;DejaVu Sans&quot;,sans-serif" font-size="37.5" fill="#000">
<text x="2515.3" y="1366.48">480</text>
<text x="2515.3" y="1318.18">485</text>
<text x="2515.3" y="1269.89">490</text>
<text x="2515.3" y="1221.6">495</text>
<text x="2515.3" y="1173.31">500</text>
<text x="2515.3" y="1125.01">505</text>
<text x="2515.3" y="1076.72">510</text>
<text x="2515.3" y="1028.43">515</text>
<text x="2515.3" y="980.14">520</text>
<text x="2515.3" y="931.84">525</text>
<text x="2515.3" y="883.55">530</text>
<text x="2515.3" y="835.26">535</text>
<text x="2515.3" y="786.97">540</text>
<text x="2515.3" y="738.67">545</text>
<text x="2515.3" y="690.38">550</text>
<text x="2515.3" y="642.09">555</text>
<text x="2515.3" y="593.8">560</text>
<text x="2515.3" y="545.5">565</text>
<text x="2515.3" y="497.21">570</text>
<text x="2515.3" y="448.92">575</text>
<text x="2515.3" y="400.63">580</text>
<text x="2515.3" y="352.33">585</text>
<text x="2515.3" y="304.04">590</text>
<text x="2515.3" y="255.75">595</text>
<text x="2515.3" y="207.46">600</text>
<text x="2515.3" y="159.16">605</text>
</g>
<g font-family="&quot;Liberation Mono&quot;,&quot;DejaVu Sans Mono&quot;,monospace" font-size="37.5" font-weight="bold" fill="#000">
<text x="160.3" y="46">Synoptic Chart</text>
<text x="160.3" y="87.3">ARPEGE 0.1º</text>
<text x="1311.75" y="87.3" text-anchor="middle">+6 hours</text>
<text x="2463.2" y="45.4" text-anchor="end">Run 2026-04-14 T 06Z</text>
<text x="2463.2" y="87.4" text-anchor="end">Forecast: Tuesday 2026-04-14 T 12Z</text>
</g>
</svg></body></html>
